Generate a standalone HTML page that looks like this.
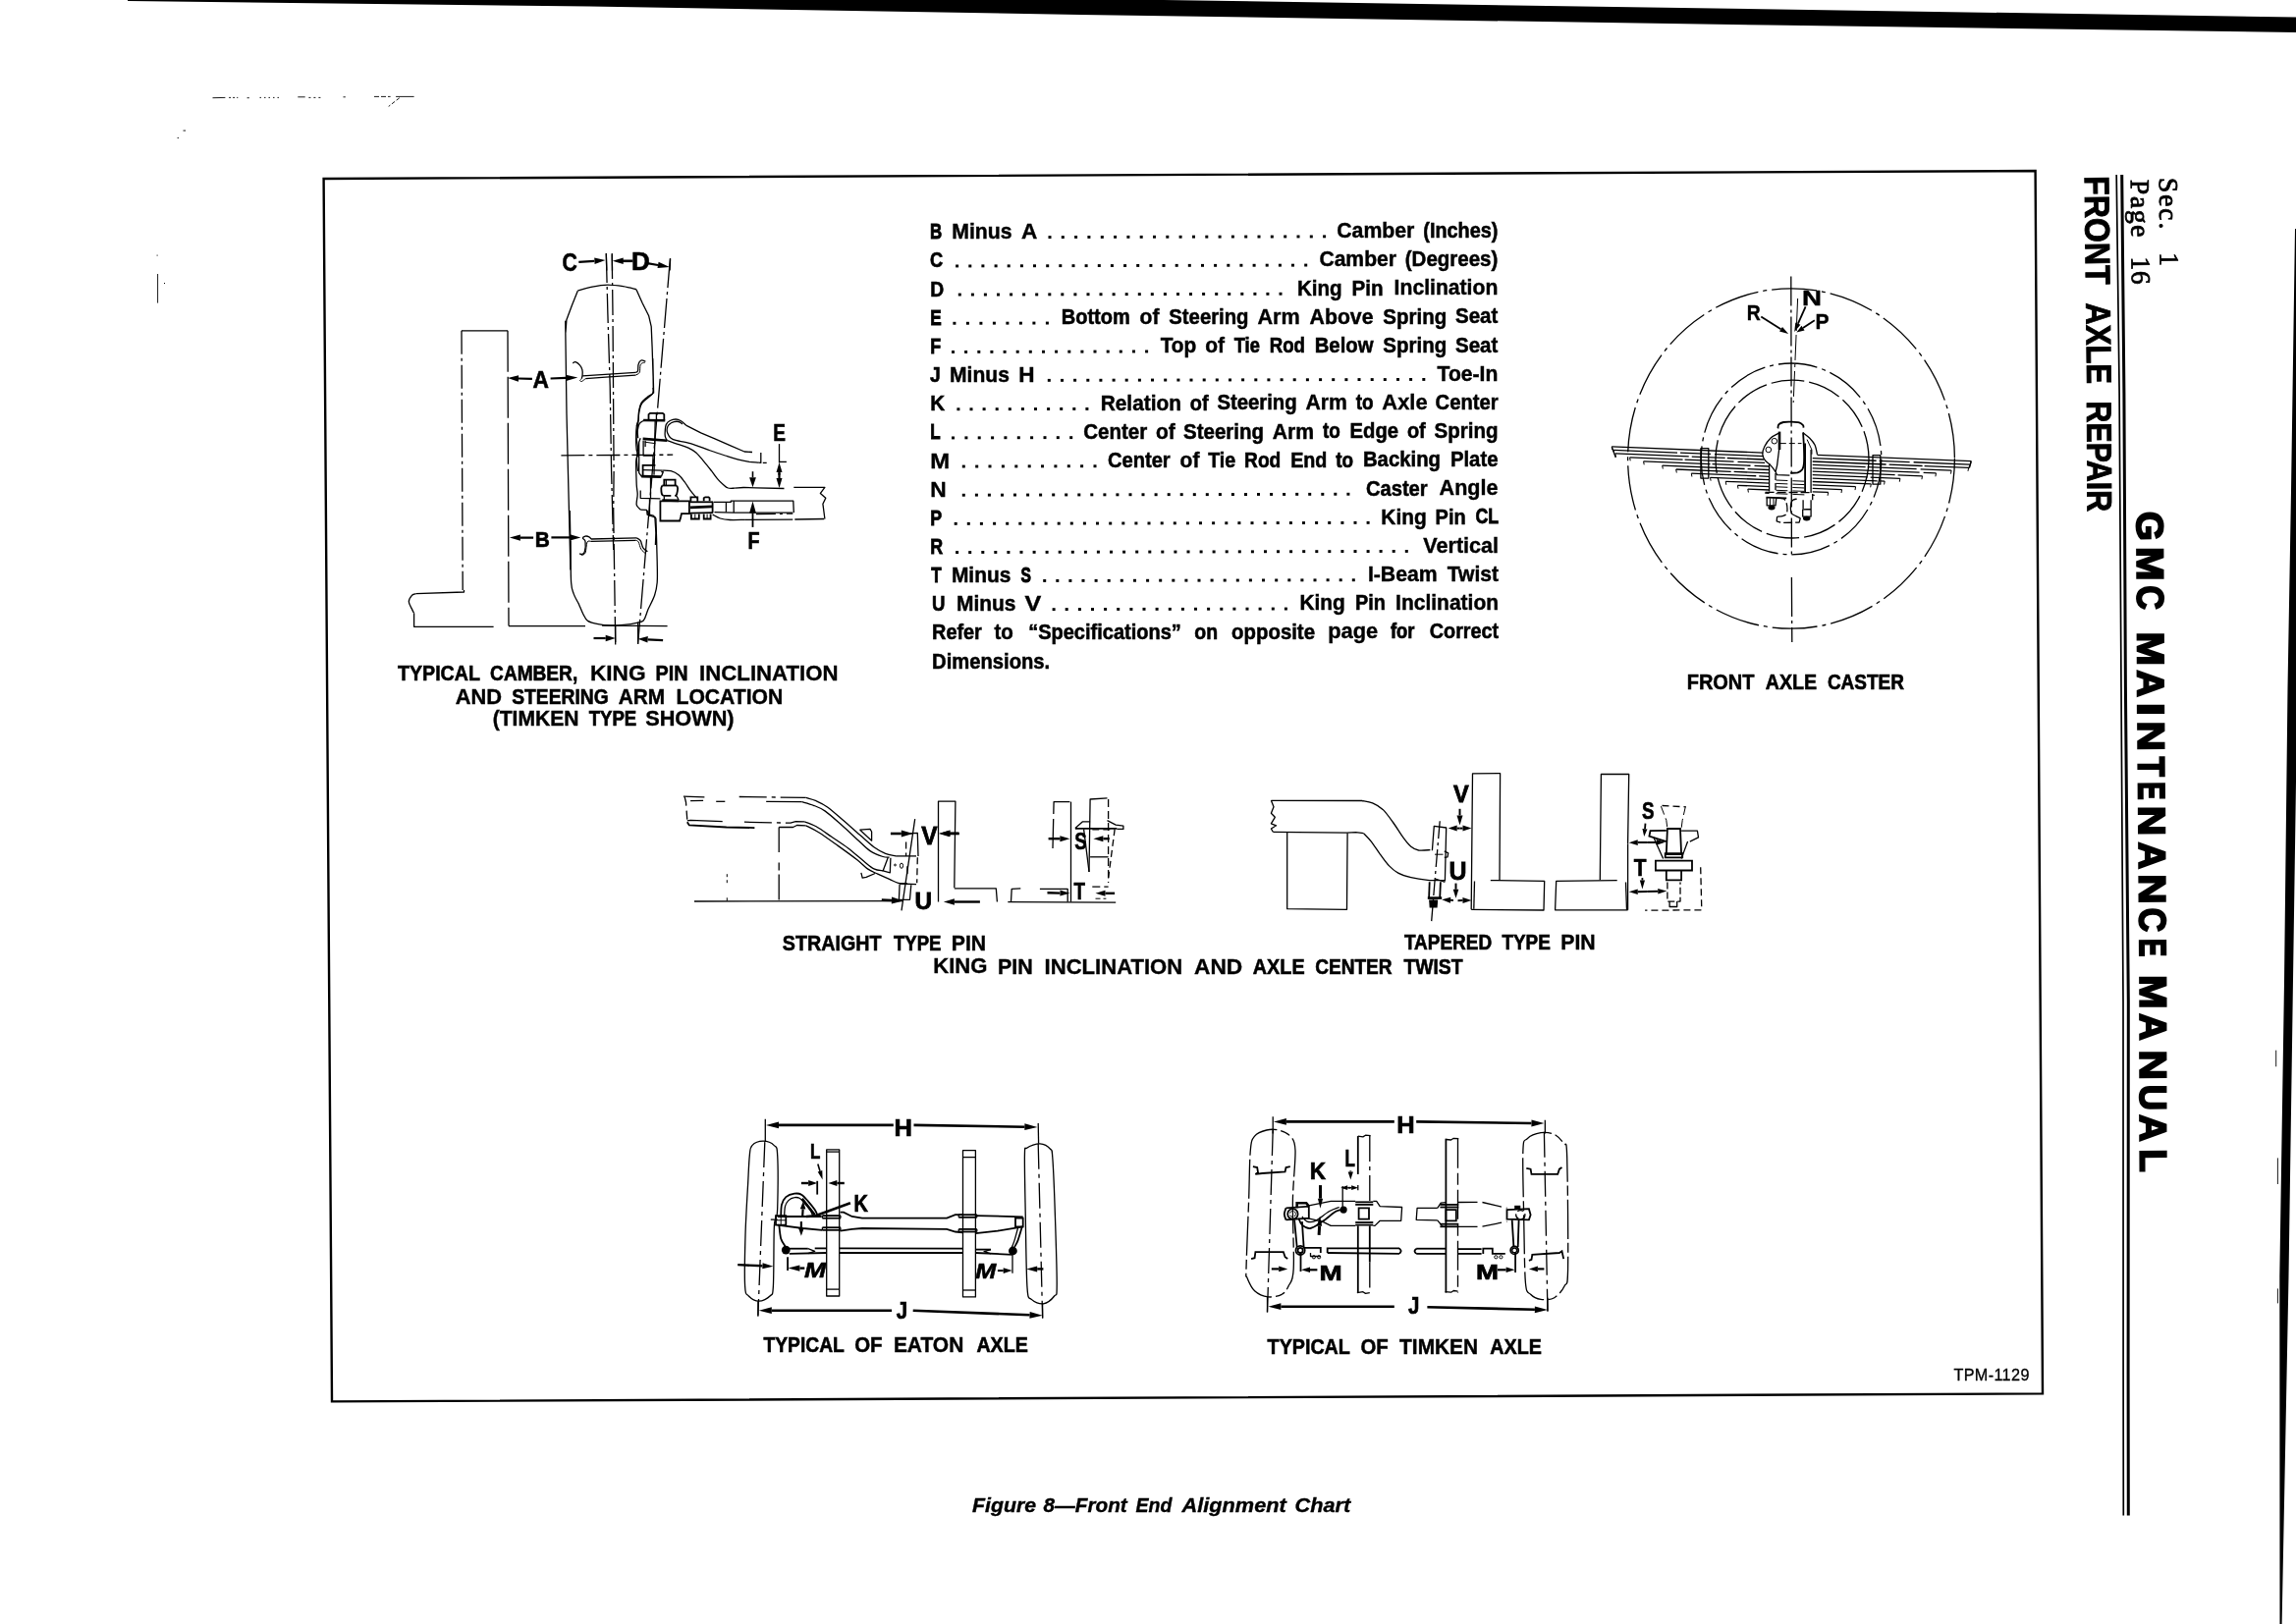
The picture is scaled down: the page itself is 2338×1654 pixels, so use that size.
<!DOCTYPE html>
<html><head><meta charset="utf-8"><title>Figure 8 - Front End Alignment Chart</title>
<style>
html,body{margin:0;padding:0;background:#fff;width:2338px;height:1654px;overflow:hidden}
svg{display:block}
text{font-family:"Liberation Sans",sans-serif;fill:#000}
.b{font-weight:bold}
.s{font-family:"Liberation Serif",serif}
.l{fill:none;stroke:#000;stroke-width:1.3;stroke-linecap:butt;stroke-linejoin:round}
.t{fill:none;stroke:#000;stroke-width:1}
.m{fill:none;stroke:#000;stroke-width:1.8}
.h{fill:none;stroke:#000;stroke-width:2.6}
.k{fill:#000;stroke:none}
</style></head><body>
<svg style="filter:grayscale(1)" width="2338" height="1654" viewBox="0 0 2338 1654">
<rect x="0" y="0" width="2338" height="1654" fill="#fff"/>

<polygon class="k" points="130,0 1185,0 2338,17.5 2338,33 1800,25.5 1100,15 600,6.5 130,1"/>
<polygon class="k" points="2337,233 2338,233 2338,796 2330.5,1300 2323.6,1654 2321.5,1654 2321.3,1300 2326,1000 2329.5,700 2333,500"/>
<polygon points="329.6,182 2072.6,174 2080,1419.4 338,1427.4" fill="none" stroke="#000" stroke-width="2.4"/>
<polyline points="2155.2,178 2158.1,400 2160,700 2162,1020 2162.1,1400 2162.3,1543.5" fill="none" stroke="#000" stroke-width="1.7"/>
<polyline points="2160.7,178 2162.9,400 2164.4,700 2167.3,1020 2167.1,1400 2167.3,1543.5" fill="none" stroke="#000" stroke-width="3"/>
<text class="b" x="946.9" y="243.2" font-size="22" textLength="12.2" lengthAdjust="spacingAndGlyphs" stroke="#000" stroke-width="0.86">B</text>
<text class="b" x="969.3" y="243.1" font-size="22" textLength="61.3" lengthAdjust="spacingAndGlyphs" stroke="#000" stroke-width="0.43">Minus</text>
<text class="b" x="1040.0" y="243.0" font-size="22" textLength="16.3" lengthAdjust="spacingAndGlyphs" stroke="#000" stroke-width="0.35">A</text>
<text class="b" x="1361.2" y="242.2" font-size="22" textLength="79.2" lengthAdjust="spacingAndGlyphs" stroke="#000" stroke-width="0.42">Camber</text>
<text class="b" x="1449.3" y="242.0" font-size="22" textLength="76.0" lengthAdjust="spacingAndGlyphs" stroke="#000" stroke-width="0.57">(Inches)</text>
<rect x="1067.5" y="240.1" width="3" height="2.9" class="k"/>
<rect x="1080.8" y="240.1" width="3" height="2.9" class="k"/>
<rect x="1094.1" y="240.0" width="3" height="2.9" class="k"/>
<rect x="1107.4" y="240.0" width="3" height="2.9" class="k"/>
<rect x="1120.8" y="240.0" width="3" height="2.9" class="k"/>
<rect x="1134.1" y="239.9" width="3" height="2.9" class="k"/>
<rect x="1147.4" y="239.9" width="3" height="2.9" class="k"/>
<rect x="1160.7" y="239.9" width="3" height="2.9" class="k"/>
<rect x="1174.0" y="239.8" width="3" height="2.9" class="k"/>
<rect x="1187.3" y="239.8" width="3" height="2.9" class="k"/>
<rect x="1200.6" y="239.8" width="3" height="2.9" class="k"/>
<rect x="1214.0" y="239.7" width="3" height="2.9" class="k"/>
<rect x="1227.3" y="239.7" width="3" height="2.9" class="k"/>
<rect x="1240.6" y="239.7" width="3" height="2.9" class="k"/>
<rect x="1253.9" y="239.6" width="3" height="2.9" class="k"/>
<rect x="1267.2" y="239.6" width="3" height="2.9" class="k"/>
<rect x="1280.5" y="239.6" width="3" height="2.9" class="k"/>
<rect x="1293.8" y="239.6" width="3" height="2.9" class="k"/>
<rect x="1307.2" y="239.5" width="3" height="2.9" class="k"/>
<rect x="1320.5" y="239.5" width="3" height="2.9" class="k"/>
<rect x="1333.8" y="239.5" width="3" height="2.9" class="k"/>
<rect x="1347.1" y="239.4" width="3" height="2.9" class="k"/>
<text class="b" x="947.1" y="272.4" font-size="22" textLength="13.1" lengthAdjust="spacingAndGlyphs" stroke="#000" stroke-width="0.74">C</text>
<text class="b" x="1343.4" y="271.4" font-size="22" textLength="78.6" lengthAdjust="spacingAndGlyphs" stroke="#000" stroke-width="0.44">Camber</text>
<text class="b" x="1430.8" y="271.2" font-size="22" textLength="94.5" lengthAdjust="spacingAndGlyphs" stroke="#000" stroke-width="0.50">(Degrees)</text>
<rect x="973.1" y="269.5" width="3" height="2.9" class="k"/>
<rect x="986.3" y="269.5" width="3" height="2.9" class="k"/>
<rect x="999.4" y="269.4" width="3" height="2.9" class="k"/>
<rect x="1012.6" y="269.4" width="3" height="2.9" class="k"/>
<rect x="1025.7" y="269.4" width="3" height="2.9" class="k"/>
<rect x="1038.9" y="269.3" width="3" height="2.9" class="k"/>
<rect x="1052.0" y="269.3" width="3" height="2.9" class="k"/>
<rect x="1065.2" y="269.3" width="3" height="2.9" class="k"/>
<rect x="1078.3" y="269.2" width="3" height="2.9" class="k"/>
<rect x="1091.5" y="269.2" width="3" height="2.9" class="k"/>
<rect x="1104.6" y="269.2" width="3" height="2.9" class="k"/>
<rect x="1117.8" y="269.1" width="3" height="2.9" class="k"/>
<rect x="1130.9" y="269.1" width="3" height="2.9" class="k"/>
<rect x="1144.1" y="269.1" width="3" height="2.9" class="k"/>
<rect x="1157.2" y="269.0" width="3" height="2.9" class="k"/>
<rect x="1170.4" y="269.0" width="3" height="2.9" class="k"/>
<rect x="1183.5" y="269.0" width="3" height="2.9" class="k"/>
<rect x="1196.7" y="268.9" width="3" height="2.9" class="k"/>
<rect x="1209.8" y="268.9" width="3" height="2.9" class="k"/>
<rect x="1223.0" y="268.9" width="3" height="2.9" class="k"/>
<rect x="1236.1" y="268.9" width="3" height="2.9" class="k"/>
<rect x="1249.3" y="268.8" width="3" height="2.9" class="k"/>
<rect x="1262.4" y="268.8" width="3" height="2.9" class="k"/>
<rect x="1275.6" y="268.8" width="3" height="2.9" class="k"/>
<rect x="1288.7" y="268.7" width="3" height="2.9" class="k"/>
<rect x="1301.9" y="268.7" width="3" height="2.9" class="k"/>
<rect x="1315.0" y="268.7" width="3" height="2.9" class="k"/>
<rect x="1328.2" y="268.6" width="3" height="2.9" class="k"/>
<text class="b" x="947.3" y="301.5" font-size="22" textLength="13.9" lengthAdjust="spacingAndGlyphs" stroke="#000" stroke-width="0.63">D</text>
<text class="b" x="1320.9" y="300.6" font-size="22" textLength="45.8" lengthAdjust="spacingAndGlyphs" stroke="#000" stroke-width="0.49">King</text>
<text class="b" x="1376.6" y="300.5" font-size="22" textLength="32.1" lengthAdjust="spacingAndGlyphs" stroke="#000" stroke-width="0.49">Pin</text>
<text class="b" x="1419.6" y="300.4" font-size="22" textLength="105.7" lengthAdjust="spacingAndGlyphs" stroke="#000" stroke-width="0.44">Inclination</text>
<rect x="975.8" y="298.6" width="3" height="2.9" class="k"/>
<rect x="988.9" y="298.6" width="3" height="2.9" class="k"/>
<rect x="1001.9" y="298.6" width="3" height="2.9" class="k"/>
<rect x="1015.0" y="298.6" width="3" height="2.9" class="k"/>
<rect x="1028.1" y="298.5" width="3" height="2.9" class="k"/>
<rect x="1041.1" y="298.5" width="3" height="2.9" class="k"/>
<rect x="1054.2" y="298.5" width="3" height="2.9" class="k"/>
<rect x="1067.3" y="298.4" width="3" height="2.9" class="k"/>
<rect x="1080.3" y="298.4" width="3" height="2.9" class="k"/>
<rect x="1093.4" y="298.4" width="3" height="2.9" class="k"/>
<rect x="1106.5" y="298.3" width="3" height="2.9" class="k"/>
<rect x="1119.5" y="298.3" width="3" height="2.9" class="k"/>
<rect x="1132.6" y="298.3" width="3" height="2.9" class="k"/>
<rect x="1145.7" y="298.2" width="3" height="2.9" class="k"/>
<rect x="1158.8" y="298.2" width="3" height="2.9" class="k"/>
<rect x="1171.8" y="298.2" width="3" height="2.9" class="k"/>
<rect x="1184.9" y="298.1" width="3" height="2.9" class="k"/>
<rect x="1198.0" y="298.1" width="3" height="2.9" class="k"/>
<rect x="1211.0" y="298.1" width="3" height="2.9" class="k"/>
<rect x="1224.1" y="298.0" width="3" height="2.9" class="k"/>
<rect x="1237.2" y="298.0" width="3" height="2.9" class="k"/>
<rect x="1250.2" y="298.0" width="3" height="2.9" class="k"/>
<rect x="1263.3" y="297.9" width="3" height="2.9" class="k"/>
<rect x="1276.4" y="297.9" width="3" height="2.9" class="k"/>
<rect x="1289.4" y="297.9" width="3" height="2.9" class="k"/>
<rect x="1302.5" y="297.8" width="3" height="2.9" class="k"/>
<text class="b" x="947.3" y="330.7" font-size="22" textLength="11.5" lengthAdjust="spacingAndGlyphs" stroke="#000" stroke-width="0.83">E</text>
<text class="b" x="1080.8" y="330.4" font-size="22" textLength="70.0" lengthAdjust="spacingAndGlyphs" stroke="#000" stroke-width="0.55">Bottom</text>
<text class="b" x="1160.6" y="330.2" font-size="22" textLength="19.9" lengthAdjust="spacingAndGlyphs" stroke="#000" stroke-width="0.44">of</text>
<text class="b" x="1190.3" y="330.1" font-size="22" textLength="81.2" lengthAdjust="spacingAndGlyphs" stroke="#000" stroke-width="0.52">Steering</text>
<text class="b" x="1280.4" y="329.9" font-size="22" textLength="43.3" lengthAdjust="spacingAndGlyphs" stroke="#000" stroke-width="0.39">Arm</text>
<text class="b" x="1333.6" y="329.7" font-size="22" textLength="64.9" lengthAdjust="spacingAndGlyphs" stroke="#000" stroke-width="0.43">Above</text>
<text class="b" x="1408.3" y="329.6" font-size="22" textLength="64.9" lengthAdjust="spacingAndGlyphs" stroke="#000" stroke-width="0.50">Spring</text>
<text class="b" x="1482.0" y="329.4" font-size="22" textLength="43.3" lengthAdjust="spacingAndGlyphs" stroke="#000" stroke-width="0.50">Seat</text>
<rect x="970.4" y="327.8" width="3" height="2.9" class="k"/>
<rect x="983.9" y="327.8" width="3" height="2.9" class="k"/>
<rect x="997.4" y="327.8" width="3" height="2.9" class="k"/>
<rect x="1010.9" y="327.7" width="3" height="2.9" class="k"/>
<rect x="1024.4" y="327.7" width="3" height="2.9" class="k"/>
<rect x="1037.9" y="327.7" width="3" height="2.9" class="k"/>
<rect x="1051.4" y="327.6" width="3" height="2.9" class="k"/>
<rect x="1064.9" y="327.6" width="3" height="2.9" class="k"/>
<text class="b" x="947.3" y="359.8" font-size="22" textLength="10.9" lengthAdjust="spacingAndGlyphs" stroke="#000" stroke-width="0.77">F</text>
<text class="b" x="1181.7" y="359.3" font-size="22" textLength="36.6" lengthAdjust="spacingAndGlyphs" stroke="#000" stroke-width="0.47">Top</text>
<text class="b" x="1227.2" y="359.2" font-size="22" textLength="19.8" lengthAdjust="spacingAndGlyphs" stroke="#000" stroke-width="0.45">of</text>
<text class="b" x="1256.8" y="359.1" font-size="22" textLength="26.0" lengthAdjust="spacingAndGlyphs" stroke="#000" stroke-width="0.73">Tie</text>
<text class="b" x="1292.7" y="359.0" font-size="22" textLength="36.2" lengthAdjust="spacingAndGlyphs" stroke="#000" stroke-width="0.69">Rod</text>
<text class="b" x="1338.7" y="358.9" font-size="22" textLength="59.8" lengthAdjust="spacingAndGlyphs" stroke="#000" stroke-width="0.52">Below</text>
<text class="b" x="1408.3" y="358.7" font-size="22" textLength="64.9" lengthAdjust="spacingAndGlyphs" stroke="#000" stroke-width="0.50">Spring</text>
<text class="b" x="1482.0" y="358.5" font-size="22" textLength="43.3" lengthAdjust="spacingAndGlyphs" stroke="#000" stroke-width="0.50">Seat</text>
<rect x="969.0" y="357.0" width="3" height="2.9" class="k"/>
<rect x="982.1" y="357.0" width="3" height="2.9" class="k"/>
<rect x="995.3" y="356.9" width="3" height="2.9" class="k"/>
<rect x="1008.4" y="356.9" width="3" height="2.9" class="k"/>
<rect x="1021.6" y="356.9" width="3" height="2.9" class="k"/>
<rect x="1034.7" y="356.8" width="3" height="2.9" class="k"/>
<rect x="1047.8" y="356.8" width="3" height="2.9" class="k"/>
<rect x="1061.0" y="356.8" width="3" height="2.9" class="k"/>
<rect x="1074.1" y="356.7" width="3" height="2.9" class="k"/>
<rect x="1087.3" y="356.7" width="3" height="2.9" class="k"/>
<rect x="1100.4" y="356.7" width="3" height="2.9" class="k"/>
<rect x="1113.5" y="356.6" width="3" height="2.9" class="k"/>
<rect x="1126.7" y="356.6" width="3" height="2.9" class="k"/>
<rect x="1139.8" y="356.6" width="3" height="2.9" class="k"/>
<rect x="1153.0" y="356.5" width="3" height="2.9" class="k"/>
<rect x="1166.1" y="356.5" width="3" height="2.9" class="k"/>
<text class="b" x="946.9" y="389.0" font-size="22" textLength="10.8" lengthAdjust="spacingAndGlyphs" stroke="#000" stroke-width="0.61">J</text>
<text class="b" x="967.1" y="389.0" font-size="22" textLength="60.8" lengthAdjust="spacingAndGlyphs" stroke="#000" stroke-width="0.45">Minus</text>
<text class="b" x="1037.3" y="388.8" font-size="22" textLength="16.3" lengthAdjust="spacingAndGlyphs" stroke="#000" stroke-width="0.35">H</text>
<text class="b" x="1463.6" y="387.7" font-size="22" textLength="61.7" lengthAdjust="spacingAndGlyphs" stroke="#000" stroke-width="0.44">Toe-In</text>
<rect x="1066.8" y="385.9" width="3" height="2.9" class="k"/>
<rect x="1080.0" y="385.9" width="3" height="2.9" class="k"/>
<rect x="1093.1" y="385.8" width="3" height="2.9" class="k"/>
<rect x="1106.3" y="385.8" width="3" height="2.9" class="k"/>
<rect x="1119.4" y="385.8" width="3" height="2.9" class="k"/>
<rect x="1132.6" y="385.7" width="3" height="2.9" class="k"/>
<rect x="1145.7" y="385.7" width="3" height="2.9" class="k"/>
<rect x="1158.9" y="385.7" width="3" height="2.9" class="k"/>
<rect x="1172.0" y="385.6" width="3" height="2.9" class="k"/>
<rect x="1185.2" y="385.6" width="3" height="2.9" class="k"/>
<rect x="1198.4" y="385.6" width="3" height="2.9" class="k"/>
<rect x="1211.5" y="385.6" width="3" height="2.9" class="k"/>
<rect x="1224.7" y="385.5" width="3" height="2.9" class="k"/>
<rect x="1237.8" y="385.5" width="3" height="2.9" class="k"/>
<rect x="1251.0" y="385.5" width="3" height="2.9" class="k"/>
<rect x="1264.1" y="385.4" width="3" height="2.9" class="k"/>
<rect x="1277.3" y="385.4" width="3" height="2.9" class="k"/>
<rect x="1290.4" y="385.4" width="3" height="2.9" class="k"/>
<rect x="1303.6" y="385.3" width="3" height="2.9" class="k"/>
<rect x="1316.7" y="385.3" width="3" height="2.9" class="k"/>
<rect x="1329.9" y="385.3" width="3" height="2.9" class="k"/>
<rect x="1343.1" y="385.2" width="3" height="2.9" class="k"/>
<rect x="1356.2" y="385.2" width="3" height="2.9" class="k"/>
<rect x="1369.4" y="385.2" width="3" height="2.9" class="k"/>
<rect x="1382.5" y="385.1" width="3" height="2.9" class="k"/>
<rect x="1395.7" y="385.1" width="3" height="2.9" class="k"/>
<rect x="1408.8" y="385.1" width="3" height="2.9" class="k"/>
<rect x="1422.0" y="385.0" width="3" height="2.9" class="k"/>
<rect x="1435.1" y="385.0" width="3" height="2.9" class="k"/>
<rect x="1448.3" y="385.0" width="3" height="2.9" class="k"/>
<text class="b" x="947.3" y="418.2" font-size="22" textLength="14.9" lengthAdjust="spacingAndGlyphs" stroke="#000" stroke-width="0.49">K</text>
<text class="b" x="1120.7" y="417.7" font-size="22" textLength="82.3" lengthAdjust="spacingAndGlyphs" stroke="#000" stroke-width="0.46">Relation</text>
<text class="b" x="1211.8" y="417.5" font-size="22" textLength="18.8" lengthAdjust="spacingAndGlyphs" stroke="#000" stroke-width="0.56">of</text>
<text class="b" x="1239.4" y="417.4" font-size="22" textLength="81.3" lengthAdjust="spacingAndGlyphs" stroke="#000" stroke-width="0.52">Steering</text>
<text class="b" x="1329.5" y="417.2" font-size="22" textLength="42.4" lengthAdjust="spacingAndGlyphs" stroke="#000" stroke-width="0.43">Arm</text>
<text class="b" x="1380.7" y="417.1" font-size="22" textLength="17.8" lengthAdjust="spacingAndGlyphs" stroke="#000" stroke-width="0.66">to</text>
<text class="b" x="1407.3" y="417.0" font-size="22" textLength="46.4" lengthAdjust="spacingAndGlyphs" stroke="#000" stroke-width="0.35">Axle</text>
<text class="b" x="1461.6" y="416.9" font-size="22" textLength="63.9" lengthAdjust="spacingAndGlyphs" stroke="#000" stroke-width="0.53">Center</text>
<rect x="974.4" y="415.3" width="3" height="2.9" class="k"/>
<rect x="987.5" y="415.3" width="3" height="2.9" class="k"/>
<rect x="1000.6" y="415.2" width="3" height="2.9" class="k"/>
<rect x="1013.7" y="415.2" width="3" height="2.9" class="k"/>
<rect x="1026.8" y="415.2" width="3" height="2.9" class="k"/>
<rect x="1039.9" y="415.1" width="3" height="2.9" class="k"/>
<rect x="1053.0" y="415.1" width="3" height="2.9" class="k"/>
<rect x="1066.1" y="415.1" width="3" height="2.9" class="k"/>
<rect x="1079.2" y="415.0" width="3" height="2.9" class="k"/>
<rect x="1092.3" y="415.0" width="3" height="2.9" class="k"/>
<rect x="1105.4" y="415.0" width="3" height="2.9" class="k"/>
<text class="b" x="947.3" y="447.3" font-size="22" textLength="10.4" lengthAdjust="spacingAndGlyphs" stroke="#000" stroke-width="0.85">L</text>
<text class="b" x="1103.3" y="446.9" font-size="22" textLength="64.9" lengthAdjust="spacingAndGlyphs" stroke="#000" stroke-width="0.50">Center</text>
<text class="b" x="1177.0" y="446.8" font-size="22" textLength="19.8" lengthAdjust="spacingAndGlyphs" stroke="#000" stroke-width="0.45">of</text>
<text class="b" x="1205.1" y="446.7" font-size="22" textLength="81.8" lengthAdjust="spacingAndGlyphs" stroke="#000" stroke-width="0.51">Steering</text>
<text class="b" x="1295.7" y="446.5" font-size="22" textLength="42.4" lengthAdjust="spacingAndGlyphs" stroke="#000" stroke-width="0.43">Arm</text>
<text class="b" x="1346.9" y="446.3" font-size="22" textLength="17.8" lengthAdjust="spacingAndGlyphs" stroke="#000" stroke-width="0.66">to</text>
<text class="b" x="1374.6" y="446.3" font-size="22" textLength="49.5" lengthAdjust="spacingAndGlyphs" stroke="#000" stroke-width="0.53">Edge</text>
<text class="b" x="1432.9" y="446.1" font-size="22" textLength="18.8" lengthAdjust="spacingAndGlyphs" stroke="#000" stroke-width="0.56">of</text>
<text class="b" x="1460.5" y="446.1" font-size="22" textLength="65.0" lengthAdjust="spacingAndGlyphs" stroke="#000" stroke-width="0.50">Spring</text>
<rect x="969.0" y="444.5" width="3" height="2.9" class="k"/>
<rect x="982.4" y="444.4" width="3" height="2.9" class="k"/>
<rect x="995.7" y="444.4" width="3" height="2.9" class="k"/>
<rect x="1009.1" y="444.4" width="3" height="2.9" class="k"/>
<rect x="1022.4" y="444.3" width="3" height="2.9" class="k"/>
<rect x="1035.8" y="444.3" width="3" height="2.9" class="k"/>
<rect x="1049.1" y="444.3" width="3" height="2.9" class="k"/>
<rect x="1062.5" y="444.2" width="3" height="2.9" class="k"/>
<rect x="1075.8" y="444.2" width="3" height="2.9" class="k"/>
<rect x="1089.2" y="444.2" width="3" height="2.9" class="k"/>
<text class="b" x="947.3" y="476.5" font-size="22" textLength="19.9" lengthAdjust="spacingAndGlyphs" stroke="#000" stroke-width="0.35">M</text>
<text class="b" x="1127.9" y="476.0" font-size="22" textLength="63.8" lengthAdjust="spacingAndGlyphs" stroke="#000" stroke-width="0.54">Center</text>
<text class="b" x="1201.6" y="475.9" font-size="22" textLength="19.8" lengthAdjust="spacingAndGlyphs" stroke="#000" stroke-width="0.45">of</text>
<text class="b" x="1230.2" y="475.8" font-size="22" textLength="28.0" lengthAdjust="spacingAndGlyphs" stroke="#000" stroke-width="0.59">Tie</text>
<text class="b" x="1267.1" y="475.7" font-size="22" textLength="37.2" lengthAdjust="spacingAndGlyphs" stroke="#000" stroke-width="0.64">Rod</text>
<text class="b" x="1314.2" y="475.6" font-size="22" textLength="37.2" lengthAdjust="spacingAndGlyphs" stroke="#000" stroke-width="0.58">End</text>
<text class="b" x="1360.2" y="475.5" font-size="22" textLength="17.8" lengthAdjust="spacingAndGlyphs" stroke="#000" stroke-width="0.66">to</text>
<text class="b" x="1387.9" y="475.4" font-size="22" textLength="79.1" lengthAdjust="spacingAndGlyphs" stroke="#000" stroke-width="0.52">Backing</text>
<text class="b" x="1476.9" y="475.2" font-size="22" textLength="48.6" lengthAdjust="spacingAndGlyphs" stroke="#000" stroke-width="0.52">Plate</text>
<rect x="979.8" y="473.6" width="3" height="2.9" class="k"/>
<rect x="993.2" y="473.6" width="3" height="2.9" class="k"/>
<rect x="1006.5" y="473.5" width="3" height="2.9" class="k"/>
<rect x="1019.9" y="473.5" width="3" height="2.9" class="k"/>
<rect x="1033.3" y="473.5" width="3" height="2.9" class="k"/>
<rect x="1046.7" y="473.4" width="3" height="2.9" class="k"/>
<rect x="1060.0" y="473.4" width="3" height="2.9" class="k"/>
<rect x="1073.4" y="473.4" width="3" height="2.9" class="k"/>
<rect x="1086.8" y="473.3" width="3" height="2.9" class="k"/>
<rect x="1100.1" y="473.3" width="3" height="2.9" class="k"/>
<rect x="1113.5" y="473.3" width="3" height="2.9" class="k"/>
<text class="b" x="947.3" y="505.6" font-size="22" textLength="16.4" lengthAdjust="spacingAndGlyphs" stroke="#000" stroke-width="0.35">N</text>
<text class="b" x="1390.9" y="504.6" font-size="22" textLength="62.8" lengthAdjust="spacingAndGlyphs" stroke="#000" stroke-width="0.53">Caster</text>
<text class="b" x="1465.6" y="504.4" font-size="22" textLength="59.9" lengthAdjust="spacingAndGlyphs" stroke="#000" stroke-width="0.39">Angle</text>
<rect x="979.8" y="502.8" width="3" height="2.9" class="k"/>
<rect x="992.9" y="502.7" width="3" height="2.9" class="k"/>
<rect x="1005.9" y="502.7" width="3" height="2.9" class="k"/>
<rect x="1019.0" y="502.7" width="3" height="2.9" class="k"/>
<rect x="1032.0" y="502.6" width="3" height="2.9" class="k"/>
<rect x="1045.1" y="502.6" width="3" height="2.9" class="k"/>
<rect x="1058.1" y="502.6" width="3" height="2.9" class="k"/>
<rect x="1071.2" y="502.5" width="3" height="2.9" class="k"/>
<rect x="1084.2" y="502.5" width="3" height="2.9" class="k"/>
<rect x="1097.3" y="502.5" width="3" height="2.9" class="k"/>
<rect x="1110.3" y="502.4" width="3" height="2.9" class="k"/>
<rect x="1123.4" y="502.4" width="3" height="2.9" class="k"/>
<rect x="1136.4" y="502.4" width="3" height="2.9" class="k"/>
<rect x="1149.5" y="502.3" width="3" height="2.9" class="k"/>
<rect x="1162.5" y="502.3" width="3" height="2.9" class="k"/>
<rect x="1175.6" y="502.3" width="3" height="2.9" class="k"/>
<rect x="1188.7" y="502.2" width="3" height="2.9" class="k"/>
<rect x="1201.7" y="502.2" width="3" height="2.9" class="k"/>
<rect x="1214.8" y="502.2" width="3" height="2.9" class="k"/>
<rect x="1227.8" y="502.2" width="3" height="2.9" class="k"/>
<rect x="1240.9" y="502.1" width="3" height="2.9" class="k"/>
<rect x="1253.9" y="502.1" width="3" height="2.9" class="k"/>
<rect x="1267.0" y="502.1" width="3" height="2.9" class="k"/>
<rect x="1280.0" y="502.0" width="3" height="2.9" class="k"/>
<rect x="1293.1" y="502.0" width="3" height="2.9" class="k"/>
<rect x="1306.1" y="502.0" width="3" height="2.9" class="k"/>
<rect x="1319.2" y="501.9" width="3" height="2.9" class="k"/>
<rect x="1332.2" y="501.9" width="3" height="2.9" class="k"/>
<rect x="1345.3" y="501.9" width="3" height="2.9" class="k"/>
<rect x="1358.3" y="501.8" width="3" height="2.9" class="k"/>
<rect x="1371.4" y="501.8" width="3" height="2.9" class="k"/>
<text class="b" x="947.3" y="534.8" font-size="22" textLength="11.9" lengthAdjust="spacingAndGlyphs" stroke="#000" stroke-width="0.77">P</text>
<text class="b" x="1406.3" y="533.7" font-size="22" textLength="46.4" lengthAdjust="spacingAndGlyphs" stroke="#000" stroke-width="0.46">King</text>
<text class="b" x="1461.6" y="533.5" font-size="22" textLength="31.1" lengthAdjust="spacingAndGlyphs" stroke="#000" stroke-width="0.55">Pin</text>
<text class="b" x="1502.5" y="533.4" font-size="22" textLength="23.6" lengthAdjust="spacingAndGlyphs" stroke="#000" stroke-width="0.78">CL</text>
<rect x="971.7" y="531.9" width="3" height="2.9" class="k"/>
<rect x="984.8" y="531.9" width="3" height="2.9" class="k"/>
<rect x="997.9" y="531.9" width="3" height="2.9" class="k"/>
<rect x="1011.1" y="531.8" width="3" height="2.9" class="k"/>
<rect x="1024.2" y="531.8" width="3" height="2.9" class="k"/>
<rect x="1037.3" y="531.8" width="3" height="2.9" class="k"/>
<rect x="1050.4" y="531.7" width="3" height="2.9" class="k"/>
<rect x="1063.6" y="531.7" width="3" height="2.9" class="k"/>
<rect x="1076.7" y="531.7" width="3" height="2.9" class="k"/>
<rect x="1089.8" y="531.6" width="3" height="2.9" class="k"/>
<rect x="1102.9" y="531.6" width="3" height="2.9" class="k"/>
<rect x="1116.0" y="531.6" width="3" height="2.9" class="k"/>
<rect x="1129.2" y="531.6" width="3" height="2.9" class="k"/>
<rect x="1142.3" y="531.5" width="3" height="2.9" class="k"/>
<rect x="1155.4" y="531.5" width="3" height="2.9" class="k"/>
<rect x="1168.5" y="531.5" width="3" height="2.9" class="k"/>
<rect x="1181.7" y="531.4" width="3" height="2.9" class="k"/>
<rect x="1194.8" y="531.4" width="3" height="2.9" class="k"/>
<rect x="1207.9" y="531.4" width="3" height="2.9" class="k"/>
<rect x="1221.0" y="531.3" width="3" height="2.9" class="k"/>
<rect x="1234.1" y="531.3" width="3" height="2.9" class="k"/>
<rect x="1247.3" y="531.3" width="3" height="2.9" class="k"/>
<rect x="1260.4" y="531.2" width="3" height="2.9" class="k"/>
<rect x="1273.5" y="531.2" width="3" height="2.9" class="k"/>
<rect x="1286.6" y="531.2" width="3" height="2.9" class="k"/>
<rect x="1299.7" y="531.1" width="3" height="2.9" class="k"/>
<rect x="1312.9" y="531.1" width="3" height="2.9" class="k"/>
<rect x="1326.0" y="531.1" width="3" height="2.9" class="k"/>
<rect x="1339.1" y="531.0" width="3" height="2.9" class="k"/>
<rect x="1352.2" y="531.0" width="3" height="2.9" class="k"/>
<rect x="1365.4" y="531.0" width="3" height="2.9" class="k"/>
<rect x="1378.5" y="530.9" width="3" height="2.9" class="k"/>
<rect x="1391.6" y="530.9" width="3" height="2.9" class="k"/>
<text class="b" x="947.3" y="564.0" font-size="22" textLength="12.9" lengthAdjust="spacingAndGlyphs" stroke="#000" stroke-width="0.76">R</text>
<text class="b" x="1449.3" y="562.7" font-size="22" textLength="76.8" lengthAdjust="spacingAndGlyphs" stroke="#000" stroke-width="0.39">Vertical</text>
<rect x="973.1" y="561.1" width="3" height="2.9" class="k"/>
<rect x="986.2" y="561.1" width="3" height="2.9" class="k"/>
<rect x="999.3" y="561.0" width="3" height="2.9" class="k"/>
<rect x="1012.3" y="561.0" width="3" height="2.9" class="k"/>
<rect x="1025.4" y="561.0" width="3" height="2.9" class="k"/>
<rect x="1038.5" y="560.9" width="3" height="2.9" class="k"/>
<rect x="1051.6" y="560.9" width="3" height="2.9" class="k"/>
<rect x="1064.6" y="560.9" width="3" height="2.9" class="k"/>
<rect x="1077.7" y="560.8" width="3" height="2.9" class="k"/>
<rect x="1090.8" y="560.8" width="3" height="2.9" class="k"/>
<rect x="1103.9" y="560.8" width="3" height="2.9" class="k"/>
<rect x="1116.9" y="560.7" width="3" height="2.9" class="k"/>
<rect x="1130.0" y="560.7" width="3" height="2.9" class="k"/>
<rect x="1143.1" y="560.7" width="3" height="2.9" class="k"/>
<rect x="1156.2" y="560.6" width="3" height="2.9" class="k"/>
<rect x="1169.3" y="560.6" width="3" height="2.9" class="k"/>
<rect x="1182.3" y="560.6" width="3" height="2.9" class="k"/>
<rect x="1195.4" y="560.6" width="3" height="2.9" class="k"/>
<rect x="1208.5" y="560.5" width="3" height="2.9" class="k"/>
<rect x="1221.6" y="560.5" width="3" height="2.9" class="k"/>
<rect x="1234.6" y="560.5" width="3" height="2.9" class="k"/>
<rect x="1247.7" y="560.4" width="3" height="2.9" class="k"/>
<rect x="1260.8" y="560.4" width="3" height="2.9" class="k"/>
<rect x="1273.9" y="560.4" width="3" height="2.9" class="k"/>
<rect x="1287.0" y="560.3" width="3" height="2.9" class="k"/>
<rect x="1300.0" y="560.3" width="3" height="2.9" class="k"/>
<rect x="1313.1" y="560.3" width="3" height="2.9" class="k"/>
<rect x="1326.2" y="560.2" width="3" height="2.9" class="k"/>
<rect x="1339.3" y="560.2" width="3" height="2.9" class="k"/>
<rect x="1352.3" y="560.2" width="3" height="2.9" class="k"/>
<rect x="1365.4" y="560.1" width="3" height="2.9" class="k"/>
<rect x="1378.5" y="560.1" width="3" height="2.9" class="k"/>
<rect x="1391.6" y="560.1" width="3" height="2.9" class="k"/>
<rect x="1404.6" y="560.0" width="3" height="2.9" class="k"/>
<rect x="1417.7" y="560.0" width="3" height="2.9" class="k"/>
<rect x="1430.8" y="560.0" width="3" height="2.9" class="k"/>
<text class="b" x="948.3" y="593.1" font-size="22" textLength="10.4" lengthAdjust="spacingAndGlyphs" stroke="#000" stroke-width="0.85">T</text>
<text class="b" x="968.9" y="593.1" font-size="22" textLength="60.5" lengthAdjust="spacingAndGlyphs" stroke="#000" stroke-width="0.46">Minus</text>
<text class="b" x="1039.5" y="592.9" font-size="22" textLength="10.4" lengthAdjust="spacingAndGlyphs" stroke="#000" stroke-width="0.99">S</text>
<text class="b" x="1392.9" y="592.0" font-size="22" textLength="70.7" lengthAdjust="spacingAndGlyphs" stroke="#000" stroke-width="0.43">I-Beam</text>
<text class="b" x="1473.8" y="591.8" font-size="22" textLength="52.3" lengthAdjust="spacingAndGlyphs" stroke="#000" stroke-width="0.44">Twist</text>
<rect x="1062.2" y="590.0" width="3" height="2.9" class="k"/>
<rect x="1075.3" y="590.0" width="3" height="2.9" class="k"/>
<rect x="1088.4" y="590.0" width="3" height="2.9" class="k"/>
<rect x="1101.5" y="589.9" width="3" height="2.9" class="k"/>
<rect x="1114.6" y="589.9" width="3" height="2.9" class="k"/>
<rect x="1127.7" y="589.9" width="3" height="2.9" class="k"/>
<rect x="1140.8" y="589.8" width="3" height="2.9" class="k"/>
<rect x="1154.0" y="589.8" width="3" height="2.9" class="k"/>
<rect x="1167.1" y="589.8" width="3" height="2.9" class="k"/>
<rect x="1180.2" y="589.7" width="3" height="2.9" class="k"/>
<rect x="1193.3" y="589.7" width="3" height="2.9" class="k"/>
<rect x="1206.4" y="589.7" width="3" height="2.9" class="k"/>
<rect x="1219.5" y="589.7" width="3" height="2.9" class="k"/>
<rect x="1232.6" y="589.6" width="3" height="2.9" class="k"/>
<rect x="1245.7" y="589.6" width="3" height="2.9" class="k"/>
<rect x="1258.8" y="589.6" width="3" height="2.9" class="k"/>
<rect x="1271.9" y="589.5" width="3" height="2.9" class="k"/>
<rect x="1285.0" y="589.5" width="3" height="2.9" class="k"/>
<rect x="1298.2" y="589.5" width="3" height="2.9" class="k"/>
<rect x="1311.3" y="589.4" width="3" height="2.9" class="k"/>
<rect x="1324.4" y="589.4" width="3" height="2.9" class="k"/>
<rect x="1337.5" y="589.4" width="3" height="2.9" class="k"/>
<rect x="1350.6" y="589.3" width="3" height="2.9" class="k"/>
<rect x="1363.7" y="589.3" width="3" height="2.9" class="k"/>
<rect x="1376.8" y="589.3" width="3" height="2.9" class="k"/>
<text class="b" x="949.1" y="622.3" font-size="22" textLength="13.4" lengthAdjust="spacingAndGlyphs" stroke="#000" stroke-width="0.69">U</text>
<text class="b" x="974.0" y="622.2" font-size="22" textLength="60.5" lengthAdjust="spacingAndGlyphs" stroke="#000" stroke-width="0.46">Minus</text>
<text class="b" x="1043.4" y="622.0" font-size="22" textLength="16.8" lengthAdjust="spacingAndGlyphs" stroke="#000" stroke-width="0.35">V</text>
<text class="b" x="1323.5" y="621.4" font-size="22" textLength="46.3" lengthAdjust="spacingAndGlyphs" stroke="#000" stroke-width="0.47">King</text>
<text class="b" x="1380.0" y="621.2" font-size="22" textLength="31.0" lengthAdjust="spacingAndGlyphs" stroke="#000" stroke-width="0.56">Pin</text>
<text class="b" x="1421.1" y="621.1" font-size="22" textLength="105.0" lengthAdjust="spacingAndGlyphs" stroke="#000" stroke-width="0.45">Inclination</text>
<rect x="1071.6" y="619.2" width="3" height="2.9" class="k"/>
<rect x="1084.7" y="619.1" width="3" height="2.9" class="k"/>
<rect x="1097.9" y="619.1" width="3" height="2.9" class="k"/>
<rect x="1111.0" y="619.1" width="3" height="2.9" class="k"/>
<rect x="1124.1" y="619.0" width="3" height="2.9" class="k"/>
<rect x="1137.2" y="619.0" width="3" height="2.9" class="k"/>
<rect x="1150.4" y="619.0" width="3" height="2.9" class="k"/>
<rect x="1163.5" y="618.9" width="3" height="2.9" class="k"/>
<rect x="1176.6" y="618.9" width="3" height="2.9" class="k"/>
<rect x="1189.8" y="618.9" width="3" height="2.9" class="k"/>
<rect x="1202.9" y="618.9" width="3" height="2.9" class="k"/>
<rect x="1216.0" y="618.8" width="3" height="2.9" class="k"/>
<rect x="1229.1" y="618.8" width="3" height="2.9" class="k"/>
<rect x="1242.3" y="618.8" width="3" height="2.9" class="k"/>
<rect x="1255.4" y="618.7" width="3" height="2.9" class="k"/>
<rect x="1268.5" y="618.7" width="3" height="2.9" class="k"/>
<rect x="1281.6" y="618.7" width="3" height="2.9" class="k"/>
<rect x="1294.8" y="618.6" width="3" height="2.9" class="k"/>
<rect x="1307.9" y="618.6" width="3" height="2.9" class="k"/>
<text class="b" x="949.1" y="651.4" font-size="22" textLength="50.7" lengthAdjust="spacingAndGlyphs" stroke="#000" stroke-width="0.57">Refer</text>
<text class="b" x="1012.5" y="651.3" font-size="22" textLength="19.4" lengthAdjust="spacingAndGlyphs" stroke="#000" stroke-width="0.49">to</text>
<text class="b" x="1047.2" y="651.2" font-size="22" textLength="155.6" lengthAdjust="spacingAndGlyphs" stroke="#000" stroke-width="0.55">“Specifications”</text>
<text class="b" x="1216.3" y="650.8" font-size="22" textLength="23.8" lengthAdjust="spacingAndGlyphs" stroke="#000" stroke-width="0.60">on</text>
<text class="b" x="1254.1" y="650.7" font-size="22" textLength="84.9" lengthAdjust="spacingAndGlyphs" stroke="#000" stroke-width="0.51">opposite</text>
<text class="b" x="1352.2" y="650.4" font-size="22" textLength="51.0" lengthAdjust="spacingAndGlyphs" stroke="#000" stroke-width="0.36">page</text>
<text class="b" x="1416.0" y="650.3" font-size="22" textLength="24.5" lengthAdjust="spacingAndGlyphs" stroke="#000" stroke-width="0.71">for</text>
<text class="b" x="1455.8" y="650.2" font-size="22" textLength="70.3" lengthAdjust="spacingAndGlyphs" stroke="#000" stroke-width="0.57">Correct</text>
<text class="b" x="949.1" y="680.6" font-size="22" textLength="120.1" lengthAdjust="spacingAndGlyphs" stroke="#000" stroke-width="0.53">Dimensions.</text>
<text class="b" x="405.0" y="693.2" font-size="22" textLength="83.9" lengthAdjust="spacingAndGlyphs" stroke="#000" stroke-width="0.59">TYPICAL</text>
<text class="b" x="499.1" y="693.2" font-size="22" textLength="89.1" lengthAdjust="spacingAndGlyphs" stroke="#000" stroke-width="0.64">CAMBER,</text>
<text class="b" x="601.0" y="693.2" font-size="22" textLength="56.5" lengthAdjust="spacingAndGlyphs" stroke="#000" stroke-width="0.35">KING</text>
<text class="b" x="667.6" y="693.2" font-size="22" textLength="33.0" lengthAdjust="spacingAndGlyphs" stroke="#000" stroke-width="0.57">PIN</text>
<text class="b" x="712.1" y="693.2" font-size="22" textLength="141.4" lengthAdjust="spacingAndGlyphs" stroke="#000" stroke-width="0.35">INCLINATION</text>
<text class="b" x="463.8" y="716.6" font-size="22" textLength="47.3" lengthAdjust="spacingAndGlyphs" stroke="#000" stroke-width="0.37">AND</text>
<text class="b" x="521.3" y="716.6" font-size="22" textLength="98.3" lengthAdjust="spacingAndGlyphs" stroke="#000" stroke-width="0.63">STEERING</text>
<text class="b" x="629.7" y="716.6" font-size="22" textLength="47.4" lengthAdjust="spacingAndGlyphs" stroke="#000" stroke-width="0.47">ARM</text>
<text class="b" x="688.5" y="716.6" font-size="22" textLength="108.8" lengthAdjust="spacingAndGlyphs" stroke="#000" stroke-width="0.44">LOCATION</text>
<text class="b" x="501.7" y="739.4" font-size="22" textLength="87.8" lengthAdjust="spacingAndGlyphs" stroke="#000" stroke-width="0.44">(TIMKEN</text>
<text class="b" x="599.7" y="739.4" font-size="22" textLength="48.6" lengthAdjust="spacingAndGlyphs" stroke="#000" stroke-width="0.69">TYPE</text>
<text class="b" x="657.2" y="739.4" font-size="22" textLength="90.4" lengthAdjust="spacingAndGlyphs" stroke="#000" stroke-width="0.38">SHOWN)</text>
<text class="b" x="1717.7" y="701.9" font-size="22" textLength="68.8" lengthAdjust="spacingAndGlyphs" stroke="#000" stroke-width="0.55">FRONT</text>
<text class="b" x="1797.8" y="701.7" font-size="22" textLength="52.4" lengthAdjust="spacingAndGlyphs" stroke="#000" stroke-width="0.59">AXLE</text>
<text class="b" x="1860.9" y="701.6" font-size="22" textLength="78.0" lengthAdjust="spacingAndGlyphs" stroke="#000" stroke-width="0.65">CASTER</text>
<text class="b" x="796.8" y="968.1" font-size="22" textLength="100.7" lengthAdjust="spacingAndGlyphs" stroke="#000" stroke-width="0.58">STRAIGHT</text>
<text class="b" x="910.0" y="967.9" font-size="22" textLength="48.5" lengthAdjust="spacingAndGlyphs" stroke="#000" stroke-width="0.69">TYPE</text>
<text class="b" x="968.8" y="967.8" font-size="22" textLength="35.4" lengthAdjust="spacingAndGlyphs" stroke="#000" stroke-width="0.43">PIN</text>
<text class="b" x="1429.9" y="967.2" font-size="22" textLength="89.2" lengthAdjust="spacingAndGlyphs" stroke="#000" stroke-width="0.65">TAPERED</text>
<text class="b" x="1529.4" y="967.0" font-size="22" textLength="49.5" lengthAdjust="spacingAndGlyphs" stroke="#000" stroke-width="0.65">TYPE</text>
<text class="b" x="1589.3" y="966.9" font-size="22" textLength="35.4" lengthAdjust="spacingAndGlyphs" stroke="#000" stroke-width="0.43">PIN</text>
<text class="b" x="950.2" y="991.4" font-size="22" textLength="55.2" lengthAdjust="spacingAndGlyphs" stroke="#000" stroke-width="0.35">KING</text>
<text class="b" x="1016.0" y="991.5" font-size="22" textLength="35.8" lengthAdjust="spacingAndGlyphs" stroke="#000" stroke-width="0.40">PIN</text>
<text class="b" x="1063.6" y="991.5" font-size="22" textLength="140.6" lengthAdjust="spacingAndGlyphs" stroke="#000" stroke-width="0.35">INCLINATION</text>
<text class="b" x="1216.0" y="991.7" font-size="22" textLength="49.2" lengthAdjust="spacingAndGlyphs" stroke="#000" stroke-width="0.35">AND</text>
<text class="b" x="1275.8" y="991.8" font-size="22" textLength="52.8" lengthAdjust="spacingAndGlyphs" stroke="#000" stroke-width="0.57">AXLE</text>
<text class="b" x="1339.2" y="991.9" font-size="22" textLength="78.4" lengthAdjust="spacingAndGlyphs" stroke="#000" stroke-width="0.64">CENTER</text>
<text class="b" x="1429.4" y="992.0" font-size="22" textLength="60.2" lengthAdjust="spacingAndGlyphs" stroke="#000" stroke-width="0.61">TWIST</text>
<text class="b" x="777.5" y="1377.0" font-size="22" textLength="82.3" lengthAdjust="spacingAndGlyphs" stroke="#000" stroke-width="0.63">TYPICAL</text>
<text class="b" x="870.2" y="1377.0" font-size="22" textLength="28.4" lengthAdjust="spacingAndGlyphs" stroke="#000" stroke-width="0.50">OF</text>
<text class="b" x="909.9" y="1377.0" font-size="22" textLength="71.4" lengthAdjust="spacingAndGlyphs" stroke="#000" stroke-width="0.45">EATON</text>
<text class="b" x="994.4" y="1377.0" font-size="22" textLength="52.4" lengthAdjust="spacingAndGlyphs" stroke="#000" stroke-width="0.59">AXLE</text>
<text class="b" x="1290.6" y="1378.7" font-size="22" textLength="84.3" lengthAdjust="spacingAndGlyphs" stroke="#000" stroke-width="0.58">TYPICAL</text>
<text class="b" x="1385.4" y="1378.7" font-size="22" textLength="28.3" lengthAdjust="spacingAndGlyphs" stroke="#000" stroke-width="0.51">OF</text>
<text class="b" x="1425.1" y="1378.7" font-size="22" textLength="80.0" lengthAdjust="spacingAndGlyphs" stroke="#000" stroke-width="0.46">TIMKEN</text>
<text class="b" x="1517.3" y="1378.7" font-size="22" textLength="52.5" lengthAdjust="spacingAndGlyphs" stroke="#000" stroke-width="0.58">AXLE</text>
<text class="b" font-size="35.5" transform="translate(2122.8 179.3) rotate(89.34)" x="0" y="0" textLength="110.5" lengthAdjust="spacingAndGlyphs" stroke="#000" stroke-width="0.9" xml:space="preserve">FRONT</text>
<text class="b" font-size="35.5" transform="translate(2124.3 308.6) rotate(89.34)" x="0" y="0" textLength="82.5" lengthAdjust="spacingAndGlyphs" stroke="#000" stroke-width="0.9" xml:space="preserve">AXLE</text>
<text class="b" font-size="35.5" transform="translate(2125.1 408.6) rotate(89.67)" x="0" y="0" textLength="112.5" lengthAdjust="spacingAndGlyphs" stroke="#000" stroke-width="0.9" xml:space="preserve">REPAIR</text>
<text class="b" font-size="38.5" text-anchor="middle" transform="translate(2175.8 536.0) rotate(89.67) scale(1.0 1)" x="0" y="0" stroke="#000" stroke-width="1.8">G</text>
<text class="b" font-size="38.5" text-anchor="middle" transform="translate(2176.0 574.3) rotate(89.67) scale(1.08 1)" x="0" y="0" stroke="#000" stroke-width="1.8">M</text>
<text class="b" font-size="38.5" text-anchor="middle" transform="translate(2176.2 608.7) rotate(89.67) scale(0.88 1)" x="0" y="0" stroke="#000" stroke-width="1.8">C</text>
<text class="b" font-size="38.5" text-anchor="middle" transform="translate(2176.5 660.8) rotate(89.67) scale(1.08 1)" x="0" y="0" stroke="#000" stroke-width="1.8">M</text>
<text class="b" font-size="38.5" text-anchor="middle" transform="translate(2176.7 696.2) rotate(89.67) scale(1.0 1)" x="0" y="0" stroke="#000" stroke-width="1.8">A</text>
<text class="b" font-size="38.5" text-anchor="middle" transform="translate(2176.9 722.5) rotate(89.67) scale(1.25 1)" x="0" y="0" stroke="#000" stroke-width="1.8">I</text>
<text class="b" font-size="38.5" text-anchor="middle" transform="translate(2177.1 749.9) rotate(89.67) scale(1.1 1)" x="0" y="0" stroke="#000" stroke-width="1.8">N</text>
<text class="b" font-size="38.5" text-anchor="middle" transform="translate(2177.4 780.9) rotate(89.67) scale(0.86 1)" x="0" y="0" stroke="#000" stroke-width="1.8">T</text>
<text class="b" font-size="38.5" text-anchor="middle" transform="translate(2177.6 805.6) rotate(89.67) scale(0.72 1)" x="0" y="0" stroke="#000" stroke-width="1.8">E</text>
<text class="b" font-size="38.5" text-anchor="middle" transform="translate(2177.8 836.0) rotate(89.67) scale(1.1 1)" x="0" y="0" stroke="#000" stroke-width="1.8">N</text>
<text class="b" font-size="38.5" text-anchor="middle" transform="translate(2178.1 871.4) rotate(89.67) scale(1.0 1)" x="0" y="0" stroke="#000" stroke-width="1.8">A</text>
<text class="b" font-size="38.5" text-anchor="middle" transform="translate(2178.3 905.5) rotate(89.67) scale(1.1 1)" x="0" y="0" stroke="#000" stroke-width="1.8">N</text>
<text class="b" font-size="38.5" text-anchor="middle" transform="translate(2178.6 937.1) rotate(89.67) scale(0.88 1)" x="0" y="0" stroke="#000" stroke-width="1.8">C</text>
<text class="b" font-size="38.5" text-anchor="middle" transform="translate(2178.8 965.2) rotate(89.67) scale(0.72 1)" x="0" y="0" stroke="#000" stroke-width="1.8">E</text>
<text class="b" font-size="38.5" text-anchor="middle" transform="translate(2179.1 1010.3) rotate(89.67) scale(1.08 1)" x="0" y="0" stroke="#000" stroke-width="1.8">M</text>
<text class="b" font-size="38.5" text-anchor="middle" transform="translate(2179.2 1046.0) rotate(89.67) scale(1.0 1)" x="0" y="0" stroke="#000" stroke-width="1.8">A</text>
<text class="b" font-size="38.5" text-anchor="middle" transform="translate(2179.2 1084.7) rotate(89.67) scale(1.1 1)" x="0" y="0" stroke="#000" stroke-width="1.8">N</text>
<text class="b" font-size="38.5" text-anchor="middle" transform="translate(2179.2 1118.0) rotate(89.67) scale(0.95 1)" x="0" y="0" stroke="#000" stroke-width="1.8">U</text>
<text class="b" font-size="38.5" text-anchor="middle" transform="translate(2179.2 1149.0) rotate(89.67) scale(1.0 1)" x="0" y="0" stroke="#000" stroke-width="1.8">A</text>
<text class="b" font-size="38.5" text-anchor="middle" transform="translate(2179.2 1181.9) rotate(89.67) scale(1.0 1)" x="0" y="0" stroke="#000" stroke-width="1.8">L</text>
<text class="s" font-size="27.5" transform="translate(2198.7 181.0) rotate(89.34)" x="0" y="0" letter-spacing="1.9" stroke="#000" stroke-width="0.8" xml:space="preserve">Sec.</text>
<text class="s" font-size="27.5" transform="translate(2199.6 257.2) rotate(89.34)" x="0" y="0" letter-spacing="0" stroke="#000" stroke-width="0.8" xml:space="preserve">1</text>
<text class="s" font-size="27.5" transform="translate(2169.7 183.0) rotate(89.34)" x="0" y="0" letter-spacing="1.7" stroke="#000" stroke-width="0.8" xml:space="preserve">Page</text>
<text class="s" font-size="27.5" transform="translate(2170.6 261.6) rotate(89.34)" x="0" y="0" letter-spacing="0.6" stroke="#000" stroke-width="0.8" xml:space="preserve">16</text>
<text class="b" x="990.1" y="1539.8" font-size="19.5" textLength="64.9" lengthAdjust="spacingAndGlyphs" stroke="#000" stroke-width="0.35" font-style="italic">Figure</text>
<text class="b" x="1062.5" y="1539.8" font-size="19.5" textLength="85.2" lengthAdjust="spacingAndGlyphs" stroke="#000" stroke-width="0.35" font-style="italic">8—Front</text>
<text class="b" x="1156.6" y="1539.8" font-size="19.5" textLength="36.9" lengthAdjust="spacingAndGlyphs" stroke="#000" stroke-width="0.35" font-style="italic">End</text>
<text class="b" x="1203.6" y="1539.8" font-size="19.5" textLength="106.1" lengthAdjust="spacingAndGlyphs" stroke="#000" stroke-width="0.35" font-style="italic">Alignment</text>
<text class="b" x="1318.6" y="1539.8" font-size="19.5" textLength="56.5" lengthAdjust="spacingAndGlyphs" stroke="#000" stroke-width="0.35" font-style="italic">Chart</text>
<text font-size="16.2" x="1989.4" y="1406" textLength="77" lengthAdjust="spacing" stroke="#000" stroke-width="0.3">TPM-1129</text>
<line x1="216.5" y1="99.7" x2="229.4" y2="99.4" stroke="#000" stroke-width="0.9"/>
<line x1="233.1" y1="99.4" x2="242.3" y2="99.4" stroke="#000" stroke-width="0.9" stroke-dasharray="2 2"/>
<line x1="251.6" y1="99.7" x2="253.8" y2="99.7" stroke="#000" stroke-width="0.9"/>
<line x1="264.5" y1="99.4" x2="284.8" y2="99.4" stroke="#000" stroke-width="0.9" stroke-dasharray="1.5 3"/>
<line x1="303.3" y1="98.8" x2="310.7" y2="98.8" stroke="#000" stroke-width="0.9"/>
<line x1="314.4" y1="99.4" x2="327.4" y2="99.4" stroke="#000" stroke-width="0.9" stroke-dasharray="2 3"/>
<line x1="349.5" y1="98.8" x2="351.8" y2="98.8" stroke="#000" stroke-width="0.9"/>
<line x1="381.0" y1="98.4" x2="397.6" y2="98.4" stroke="#000" stroke-width="0.9" stroke-dasharray="5 2"/>
<line x1="403.1" y1="98.4" x2="421.6" y2="98.4" stroke="#000" stroke-width="0.9"/>
<line x1="406.8" y1="99.7" x2="395.7" y2="108.4" stroke="#000" stroke-width="0.9" stroke-dasharray="4 2"/>
<line x1="186.5" y1="133.0" x2="189.1" y2="133.0" stroke="#000" stroke-width="0.9"/>
<line x1="180.6" y1="140.4" x2="182.1" y2="140.4" stroke="#000" stroke-width="0.9"/>
<line x1="160.6" y1="279.0" x2="160.6" y2="308.6" stroke="#000" stroke-width="0.9"/>
<rect x="159.6" y="259.6" width="1" height="1" class="k"/><rect x="167" y="288" width="1" height="1" class="k"/>
<line x1="2317.7" y1="1069.7" x2="2317.7" y2="1086.3" stroke="#000" stroke-width="0.9"/>
<line x1="2319.4" y1="1179.4" x2="2319.4" y2="1206" stroke="#000" stroke-width="0.9"/>
<line x1="2319.4" y1="1312.4" x2="2319.4" y2="1327.4" stroke="#000" stroke-width="0.9"/>
<!-- d1.svg -->
<path class="l" d="M580.9 550.7 L580.9 579.9 L577 421.3 L575.7 327.2 L576 338.5 L576.9 325.7 L582.4 310.9 L588.3 296.2"/>
<path class="l" d="M588.3 296.2 C590.7 295.5 598 293.2 603.1 292.2 C608.1 291.2 613.6 290.3 618.8 290.2 C624.1 290.2 629.7 291 634.6 291.7 C639.4 292.5 645.7 294.2 647.9 294.7"/>
<path class="l" d="M647.9 294.7 L654.3 309 L660.7 321.8 L663.2 332.6 L664.1 353.3 L665.6 400 L664.8 365.3 L665.3 398.1 L664.8 401"/>
<path class="l" d="M664.8 401 C663.7 401.6 660.5 403.3 658.5 404.9 C656.6 406.5 654.2 408.3 652.9 410.6 C651.6 412.9 651.1 415.7 650.6 418.5 C650.1 421.3 650.4 425.1 650.1 427.6 C649.7 430 648.7 430.4 648.4 433.2 C648 436.1 647.6 440.8 647.8 444.6 C648 448.3 649.4 452.1 649.5 455.9 C649.6 459.7 648.4 463.2 648.4 467.2 C648.4 471.2 649.3 477.9 649.5 480"/>
<path class="l" d="M580.3 520 C580.4 526.5 580.8 547 581 559.2 C581.2 571.4 581.1 585.6 581.6 593.2 C582.2 600.8 582.9 601.2 584.2 604.9 C585.5 608.6 587.9 612.1 589.5 615.4 C591 618.7 591.9 621.7 593.4 624.5 C594.9 627.4 596 630.5 598.6 632.4 C601.2 634.2 605.1 634.9 609.1 635.6 C613 636.4 617.8 636.8 622.1 636.9 C626.5 637.1 630.8 636.7 635.2 636.3 C639.6 635.9 644.9 635.1 648.3 634.3 C651.6 633.6 653.5 634 655.5 631.7 C657.4 629.4 658.2 624.9 660 620.6 C661.9 616.4 665 610.8 666.6 606.2 C668.1 601.7 668.7 598.8 669.2 593.2 C669.6 587.5 669.4 583.2 669.2 572.3 C669 561.4 668.1 535.2 667.9 527.8"/>
<path class="l" d="M667.9 527.8 L665.3 525.2 L660 523.9 L659.4 520"/>
<path class="l" d="M470 336.8 L517 336.8"/>
<path class="l" d="M470 336.8 L471.2 601" stroke-dasharray="24 4 3 4"/>
<path class="l" d="M517 336.8 L518 637.6" stroke-dasharray="42 5"/>
<path class="l" d="M472.5 601 L472.5 603 L423.5 604.7"/>
<path class="l" d="M423.5 604.7 C422.9 604.9 420.8 604.9 419.6 606.2 C418.4 607.6 416.3 610.4 416.3 612.8 C416.3 615.2 418.7 618.7 419.6 620.6 C420.5 622.6 421.2 623.9 421.6 624.5"/>
<path class="l" d="M421.6 624.5 L421.6 638.3 L502.6 638.3"/>
<path class="l" d="M518 637.6 L596 637.6"/>
<path class="l" d="M613 637.2 L679.6 637.6"/>
<path class="l" d="M623.2 258 L624 320 L625.1 480 L624.7 520 L626.7 656" stroke-dasharray="26 4 3 4"/>
<path class="l" d="M617.3 258 L618.9 320 L621.2 393.6 L622.6 480 L624.7 560" stroke-dasharray="30 4 3 4"/>
<path class="l" d="M682.4 263.2 L649.6 655.9" stroke-dasharray="30 4 3 4"/>
<path class="l" d="M649.6 633.7 L649.6 655.9"/>
<path class="l" d="M571.4 463.8 L685.2 463.2" stroke-dasharray="24 4 4 4"/>
<path class="l" d="M583.2 369.8 C583.7 369.6 584.8 368.3 586.1 368.7 C587.3 369.1 589.5 370.8 590.6 372.1 C591.7 373.4 592.5 375 592.9 376.6 C593.3 378.2 593.2 380.2 593.1 381.7 C593 383.2 592.4 385 592.3 385.7"/>
<path class="t" d="M592.3 385.7 C592 386 590.6 386.9 590.6 387.4 C590.6 387.8 591.4 388.8 592.3 388.5 C593.2 388.2 595.6 386.1 596.3 385.7"/>
<path class="l" d="M593.1 382.8 L647.2 379.4"/>
<path class="l" d="M596.3 385.7 L616.7 384.1 L647.2 382.1"/>
<path class="l" d="M647.2 379.4 C647.6 379.2 649 379.2 649.5 377.8 C650 376.3 649.5 372.7 650.1 371 C650.6 369.2 651.7 367.5 652.9 367 C654.1 366.5 656.7 367.9 657.4 368.1"/>
<path class="t" d="M647.2 382.1 C647.9 381.6 650.4 381.1 651.2 379.4 C652 377.8 651.5 373.7 652 372.1 C652.5 370.5 653.2 370.3 654 369.8 C654.8 369.4 656.4 369.4 656.8 369.3"/>
<path class="l" d="M590.1 563.8 C590.6 563.9 591.9 564.8 592.7 564.4 C593.6 564.1 594.8 564 595.3 561.8 C595.9 559.6 596.3 553.6 596 551.4 C595.7 549.1 593.4 549 593.4 548.1 C593.4 547.2 594.9 546.4 596 546.1 C597.1 545.9 598.9 546.3 599.9 546.8 C600.9 547.3 601.6 548.6 601.9 549"/>
<path class="l" d="M601.9 549 L648.3 547.8"/>
<path class="l" d="M648.3 547.8 C648.9 548.3 651.1 549 652.2 550.7 C653.3 552.4 653.6 556 654.8 557.9 C656 559.7 658.6 561.2 659.4 561.8"/>
<path class="t" d="M592.1 565.5 C592.7 565.1 595 565.4 596 563.1 C597 560.9 597 554 598 552 C598.9 550.1 601.2 551.5 601.9 551.4"/>
<path class="l" d="M601.9 551.4 L647.6 550.3"/>
<path class="t" d="M647.6 550.3 C648.1 550.6 649.4 550.5 650.2 552 C651.1 553.5 651.6 557.2 652.8 559.2 C654 561.2 656.7 563 657.4 563.8"/>
<line x1="541.9" y1="385.9" x2="528" y2="385.5" stroke="#000" stroke-width="2.2"/><polygon class="k" points="517,385.1 528.1,382.3 527.9,388.7"/>
<line x1="560.6" y1="385.5" x2="576.3" y2="384.9" stroke="#000" stroke-width="2.2"/><polygon class="k" points="588.3,384.5 576.5,388.1 576.2,381.7"/>
<text class="b" x="542.5" y="394.6" font-size="24.3" textLength="16.4" lengthAdjust="spacingAndGlyphs" stroke="#000" stroke-width="0.6">A</text>
<line x1="543.1" y1="547.7" x2="529.9" y2="547.6" stroke="#000" stroke-width="2.2"/><polygon class="k" points="518.9,547.4 529.9,544.4 529.9,550.8"/>
<line x1="561.4" y1="547.4" x2="580.4" y2="547.4" stroke="#000" stroke-width="2.2"/><polygon class="k" points="591.4,547.4 580.4,550.6 580.4,544.2"/>
<text class="b" x="544.8" y="556.8" font-size="22.9" textLength="15.1" lengthAdjust="spacingAndGlyphs" stroke="#000" stroke-width="0.6">B</text>
<line x1="604.5" y1="650" x2="616.7" y2="650" stroke="#000" stroke-width="2.2"/><polygon class="k" points="626.7,650 616.7,653.2 616.7,646.8"/>
<line x1="675.1" y1="652.2" x2="659.6" y2="651.3" stroke="#000" stroke-width="2.2"/><polygon class="k" points="649.6,650.7 659.8,648.1 659.4,654.5"/>
<path class="l" d="M626.7 637.6 L626.7 656.5"/>
<text class="b" x="572.6" y="275.5" font-size="25.6" textLength="15.3" lengthAdjust="spacingAndGlyphs" stroke="#000" stroke-width="0.6">C</text>
<line x1="589.3" y1="266.8" x2="605.4" y2="265.8" stroke="#000" stroke-width="2.2"/><polygon class="k" points="616.4,265.1 605.6,269 605.2,262.6"/>
<text class="b" x="643" y="275.3" font-size="25.3" textLength="18.8" lengthAdjust="spacingAndGlyphs" stroke="#000" stroke-width="0.6">D</text>
<polygon class="k" points="623.7,265.8 634.7,262.6 634.7,269"/>
<line class="h" x1="632.6" y1="265.8" x2="644.4" y2="265.8"/>
<line x1="659.2" y1="268.1" x2="670" y2="270" stroke="#000" stroke-width="2.2"/><polygon class="k" points="681.9,272 669.5,273.1 670.6,266.8"/>
<path class="l" d="M617.3 258.2 L617.8 275.5"/>
<path class="l" d="M623.3 259.2 L623.5 275.5"/>
<path class="l" d="M682.6 263.2 L682.1 275.5"/>
<path class="l" d="M665 395 C664.9 396 666.4 398.3 664.5 400.9 C662.6 403.5 655.9 407.5 653.6 410.8 C651.3 414 651.3 417 650.7 420.6 C650 424.2 650.2 428.2 649.7 432.4 C649.2 436.7 648 442 647.7 446.2 C647.5 450.5 647.9 455.3 648.2 458.1 C648.6 460.8 649.8 461 649.7 463 C649.6 465 648 464.8 647.7 469.9 C647.5 475 648 487.9 648.2 493.5 C648.5 499.1 649.2 499.9 649.2 503.4 C649.2 506.8 647.7 511.6 648.2 514.2 C648.7 516.8 651.5 518.3 652.2 519.1"/>
<path class="l" d="M652.2 519.1 L658.6 519.3 L659.1 524.1 L666.9 527 L667.9 542.8 L667.4 555"/>
<path class="l" d="M655.1 428.5 C654.5 429 652.2 429.8 651.2 431.5 C650.2 433.1 649.5 435.9 649.2 438.3 C649 440.8 649.6 444.9 649.7 446.2"/>
<path class="l" d="M652.2 446.2 L650.7 450.2 L650.7 481.7 L653.6 485.6"/>
<path class="l" d="M652.2 499.4 L652.2 507.3 L672.4 507.8"/>
<path class="l" d="M662.5 486.1 L662.5 508.3"/>
<path class="l" d="M661.5 508.3 L661.5 526"/>
<path class="l" d="M667.2 428 L666 483.7"/>
<path class="m" d="M660.5 427.5 L660.5 422.1 L662 420.8 L674.8 420.8 L676.3 422.1 L676.3 427.5"/>
<path class="l" d="M668.4 420.8 L668.4 427.5"/>
<path class="h" d="M655.1 428 L677.3 428.3"/>
<path class="h" d="M654.6 446.9 L679.3 448.7"/>
<path class="l" d="M655.1 448.7 L655.1 464 L665.5 464"/>
<path class="l" d="M657.1 448.7 L657.1 455.1"/>
<path class="t" d="M656.6 450.2 L667.4 451.7"/>
<path class="m" d="M654.6 484.7 L654.6 473.8 L667.4 473.8"/>
<path class="l" d="M654.6 478.7 L674.3 479.2"/>
<path class="h" d="M653.2 485.1 L673.3 485.6"/>
<path class="l" d="M673.3 480.7 L675.3 480.7 L673.3 485.6"/>
<path class="l" d="M665 464 L665 473.8"/>
<path class="l" d="M679.3 448.7 C678.9 448 677.6 446 677.3 444.3 C677 442.5 677.1 440.3 677.3 438.3 C677.5 436.4 677.5 434.1 678.3 432.4 C679.1 430.8 680.6 429.4 682.2 428.5 C683.9 427.6 686.3 427 688.1 427 C689.9 427 691.2 427.4 693.1 428.5 C694.9 429.6 698 432.6 699 433.4"/>
<path class="l" d="M699 433.4 L713.7 440.8 L728.5 447.2 L743.3 453.6 L758.1 460 L766 460.5"/>
<path class="l" d="M774.8 461 L774.8 471.4 L772.9 471.1"/>
<path class="l" d="M772.9 471.1 C771.2 470.9 766.3 470.8 763 470.4 C759.7 469.9 757.3 469.5 753.2 468.4 C749 467.3 743.3 465.5 738.4 464 C733.4 462.4 728.5 460.8 723.6 459 C718.7 457.3 712.9 455 708.8 453.6 C704.7 452.2 702.2 451.5 699 450.7 C695.7 449.8 691.7 449.4 689.1 448.7 C686.5 448 684.8 447.5 683.2 446.2 C681.6 445 680.4 442.9 679.8 441.3 C679.1 439.7 679 437.9 679.3 436.4 C679.5 434.9 680.1 433.6 681.2 432.4 C682.4 431.3 684.5 430.2 686.2 429.7 C687.8 429.2 689.6 429.1 691.1 429.5 C692.6 429.9 694.4 431.5 695 431.9"/>
<path class="l" d="M776.8 471.4 L780.7 471.4"/>
<path class="l" d="M679.3 448.7 C681.2 449.4 687.5 451.4 691.1 452.6 C694.7 453.9 698 454.7 700.9 456.1 C703.9 457.5 706.2 458.7 708.8 461 C711.4 463.3 714.1 466.8 716.7 469.9 C719.3 473 722.3 476.8 724.6 479.7 C726.9 482.7 728.5 485.3 730.5 487.6 C732.5 489.9 734.6 492 736.4 493.5 C738.2 495.1 739.4 496.4 741.3 497 C743.3 497.6 747.1 497.1 748.2 497.2"/>
<path class="l" d="M748.2 497.2 L757.1 496.5 L769.9 496.8 L798.5 497.5"/>
<path class="l" d="M674.3 479.2 C675.8 479.3 680.4 479 683.2 479.7 C686 480.5 688.8 481.9 691.1 483.7 C693.4 485.5 695 487.9 697 490.6 C699 493.2 701.1 497 702.9 499.4 C704.7 501.9 706.7 504 707.8 505.3 C709 506.7 709.5 507 709.8 507.3"/>
<path class="l" d="M808.3 496.3 L839.9 496.3 L835.4 502.4 L840.8 507.3 L837.9 513.2 L839.9 528.5"/>
<path class="l" d="M809.3 529 L839.9 528.5" stroke-dasharray="30 4 3 4"/>
<path class="m" d="M676.3 494 L676.3 488.6 L687.6 488.6 L687.6 494"/>
<path class="l" d="M678.3 488.6 L678.3 494"/>
<path class="m" d="M675.3 504.9 C675.1 504.5 674.2 504.1 673.8 502.9 C673.5 501.7 673.3 498.9 673.3 497.5 C673.4 496.1 674.2 495 674.3 494.5"/>
<path class="m" d="M674.3 494.5 L689.1 494.5"/>
<path class="m" d="M689.1 494.5 C689.3 495 690.1 496 690.1 497.5 C690.1 498.9 689.5 502.1 689.1 503.4 C688.7 504.6 687.9 504.6 687.6 504.9"/>
<path class="m" d="M675.3 504.9 L689.1 504.9" stroke-dasharray="8 4"/>
<path class="h" d="M674.3 509.5 L691.1 509.9"/>
<path class="l" d="M676.3 505.3 L676.3 509.3"/>
<path class="l" d="M689.1 505.3 L691.1 509.3"/>
<path class="m" d="M702.9 510.3 L672.4 510.3 L672.4 530.5 L692.1 530.5 L693.1 527 L694 523.1 L703.4 523.1"/>
<path class="m" d="M702.4 511.3 L726.1 511.3"/>
<path class="m" d="M702.9 522.7 L726.1 522.1"/>
<path class="m" d="M701.9 510.8 L701.9 523.1"/>
<path class="m" d="M725.6 511.3 L725.6 522.1"/>
<path class="h" d="M702.9 516.9 L725.6 515.9"/>
<path class="m" d="M703.4 510.8 L703.4 506.3 L710.3 506.3 L710.3 510.8"/>
<path class="m" d="M716.7 510.3 L716.7 507.3 L718.2 506.3 L721.6 506.3 L722.6 507.3 L722.6 510.3"/>
<path class="m" d="M703.9 523.6 L703.9 528.5 L711.8 528.5 L711.8 523.6"/>
<path class="m" d="M716.7 523.6 L716.7 528.5 L723.6 528.5 L723.6 523.6"/>
<path class="t" d="M707.8 523.6 L707.8 528.5"/>
<path class="t" d="M720.1 523.6 L720.1 528.5"/>
<path class="l" d="M726.6 511.3 L744.3 511.3 L744.3 510.1 L807.8 510.1 L808.3 522.1"/>
<path class="l" d="M727.5 521.6 L747.2 522.1 L807.3 522.1"/>
<path class="l" d="M739.4 511.7 L739.4 521.6"/>
<path class="l" d="M747.2 510.3 L747.2 522.1"/>
<path class="l" d="M725.6 524.1 C726.9 524.7 730.5 527.1 733.4 528 C736.4 528.9 739.2 529.3 743.3 529.5 C747.4 529.7 755.6 529.4 758.1 529.4"/>
<path class="l" d="M758.1 529.4 L807.3 529.2"/>
<path class="l" d="M769.9 523.6 L807.3 523.1" stroke-dasharray="20 4 3 4"/>
<text class="b" x="787.2" y="449.2" font-size="24.7" textLength="12.7" lengthAdjust="spacingAndGlyphs" stroke="#000" stroke-width="0.6">E</text>
<line class="l" x1="793.5" y1="452.1" x2="793.5" y2="471.4"/>
<line class="l" x1="793.5" y1="470.4" x2="800.9" y2="470.4"/>
<line x1="793.5" y1="483.7" x2="793.5" y2="480.9" stroke="#000" stroke-width="2.2"/><polygon class="k" points="793.5,470.9 796.5,480.9 790.5,480.9"/>
<line x1="793.5" y1="481.7" x2="793.5" y2="487" stroke="#000" stroke-width="2.2"/><polygon class="k" points="793.5,497 790.5,487 796.5,487"/>
<line x1="766.5" y1="480.2" x2="766.5" y2="486.2" stroke="#000" stroke-width="1.6"/><polygon class="k" points="766.5,496.2 763.1,486.2 769.9,486.2"/>
<line x1="766.5" y1="536.9" x2="766.5" y2="522.5" stroke="#000" stroke-width="1.8"/><polygon class="k" points="766.5,510.5 769.9,522.5 763.1,522.5"/>
<text class="b" x="761.6" y="558.6" font-size="23.7" textLength="12.1" lengthAdjust="spacingAndGlyphs" stroke="#000" stroke-width="0.6">F</text>
<!-- d2.svg -->
<ellipse class="l" cx="1824" cy="467" rx="166.4" ry="173.2" stroke-dasharray="46 5 4 5"/>
<ellipse class="l" cx="1824" cy="467.4" rx="91.8" ry="97.4" stroke-dasharray="40 5 4 5"/>
<ellipse class="l" cx="1825" cy="467.6" rx="78" ry="80.4" stroke-dasharray="34 5"/>
<path class="l" d="M1823.8 281.6 L1824.4 564.8" stroke-dasharray="30 4 3 4"/>
<path class="l" d="M1824.4 587.9 L1824.8 654.1" stroke-dasharray="40 4 3 4"/>
<path class="t" d="M1830.6 304 L1826.2 410" stroke-dasharray="26 4 3 4"/>
<text class="b" x="1778.7" y="326.2" font-size="22.3" textLength="14.0" lengthAdjust="spacingAndGlyphs" stroke="#000" stroke-width="0.4">R</text>
<text class="b" x="1835" y="311.4" font-size="22.3" textLength="20.0" lengthAdjust="spacingAndGlyphs" stroke="#000" stroke-width="0.4">N</text>
<text class="b" x="1848.4" y="334.8" font-size="22.8" textLength="14.1" lengthAdjust="spacingAndGlyphs" stroke="#000" stroke-width="0.4">P</text>
<line x1="1793.3" y1="322.5" x2="1813.5" y2="335.2" stroke="#000" stroke-width="1.8"/><polygon class="k" points="1821.1,340.1 1812,337.6 1815,332.9"/>
<line x1="1838.6" y1="312.4" x2="1830.9" y2="329.7" stroke="#000" stroke-width="1.8"/><polygon class="k" points="1827.2,337.9 1828.3,328.5 1833.4,330.8"/>
<line x1="1847.8" y1="326.2" x2="1836" y2="334.1" stroke="#000" stroke-width="1.8"/><polygon class="k" points="1829.4,338.5 1834.5,331.8 1837.6,336.4"/>
<line class="l" x1="1641.3" y1="454.9" x2="1795.2" y2="461.1"/>
<line class="l" x1="1850.5" y1="463.3" x2="2007.2" y2="469.7"/>
<line class="t" x1="1641.3" y1="454.9" x2="1641.9" y2="458.3"/>
<line class="t" x1="2007.2" y1="469.7" x2="2006.6" y2="473.1"/>
<line class="l" x1="1643.1" y1="458.4" x2="1795.9" y2="464.6" stroke-dasharray="65 3 31 4"/>
<line class="l" x1="1845.7" y1="466.6" x2="2006.3" y2="473.1" stroke-dasharray="65 3 31 4"/>
<line class="t" x1="1643.1" y1="458.4" x2="1643.7" y2="461.8"/>
<line class="t" x1="2006.3" y1="473.1" x2="2005.7" y2="476.5"/>
<line class="l" x1="1644.8" y1="461.9" x2="1796.5" y2="468" stroke-dasharray="75 3 34 2"/>
<line class="l" x1="1845.7" y1="470" x2="2004.6" y2="476.4" stroke-dasharray="75 3 34 2"/>
<line class="t" x1="1644.8" y1="461.9" x2="1645.4" y2="465.3"/>
<line class="t" x1="2004.6" y1="476.4" x2="2004" y2="479.8"/>
<line class="l" x1="1659.6" y1="465.9" x2="1797.1" y2="471.4" stroke-dasharray="54 2 50 4"/>
<line class="l" x1="1845.7" y1="473.4" x2="1987.1" y2="479.1" stroke-dasharray="54 2 50 4"/>
<line class="t" x1="1659.6" y1="465.9" x2="1660.2" y2="469.3"/>
<line class="t" x1="1987.1" y1="479.1" x2="1986.5" y2="482.6"/>
<line class="l" x1="1673.6" y1="469.9" x2="1801.6" y2="475" stroke-dasharray="68 2 39 4"/>
<line class="l" x1="1845.7" y1="476.8" x2="1971.5" y2="481.9" stroke-dasharray="68 2 39 4"/>
<line class="t" x1="1673.6" y1="469.9" x2="1674.2" y2="473.3"/>
<line class="t" x1="1971.5" y1="481.9" x2="1970.9" y2="485.3"/>
<line class="l" x1="1692.7" y1="474.1" x2="1801.6" y2="478.5" stroke-dasharray="84 3 42 2"/>
<line class="l" x1="1845.7" y1="480.2" x2="1957.5" y2="484.8" stroke-dasharray="84 3 42 2"/>
<line class="t" x1="1692.7" y1="474.1" x2="1693.3" y2="477.5"/>
<line class="t" x1="1957.5" y1="484.8" x2="1956.9" y2="488.2"/>
<line class="l" x1="1706.7" y1="478" x2="1801.6" y2="481.9" stroke-dasharray="56 3 38 2"/>
<line class="l" x1="1845.7" y1="483.7" x2="1934.9" y2="487.3" stroke-dasharray="56 3 38 2"/>
<line class="t" x1="1706.7" y1="478" x2="1707.3" y2="481.5"/>
<line class="t" x1="1934.9" y1="487.3" x2="1934.3" y2="490.7"/>
<line class="l" x1="1722.3" y1="482.1" x2="1801.6" y2="485.3" stroke-dasharray="66 3 37 2"/>
<line class="l" x1="1845.7" y1="487.1" x2="1919.2" y2="490.1" stroke-dasharray="66 3 37 2"/>
<line class="t" x1="1722.3" y1="482.1" x2="1722.9" y2="485.5"/>
<line class="t" x1="1919.2" y1="490.1" x2="1918.6" y2="493.5"/>
<line class="l" x1="1741.5" y1="486.3" x2="1801.6" y2="488.7" stroke-dasharray="69 3 48 2"/>
<line class="l" x1="1845.7" y1="490.5" x2="1905.3" y2="492.9" stroke-dasharray="69 3 48 2"/>
<line class="t" x1="1808.4" y1="489" x2="1837.7" y2="490.2" stroke-dasharray="12 5"/>
<line class="t" x1="1741.5" y1="486.3" x2="1742.1" y2="489.7"/>
<line class="t" x1="1905.3" y1="492.9" x2="1904.7" y2="496.3"/>
<line class="l" x1="1757.2" y1="490.3" x2="1801.6" y2="492.1" stroke-dasharray="88 3 49 4"/>
<line class="l" x1="1845.7" y1="493.9" x2="1889.6" y2="495.7" stroke-dasharray="88 3 49 4"/>
<line class="t" x1="1808.4" y1="492.4" x2="1837.7" y2="493.6" stroke-dasharray="12 5"/>
<line class="t" x1="1757.2" y1="490.3" x2="1757.8" y2="493.8"/>
<line class="t" x1="1889.6" y1="495.7" x2="1889" y2="499.1"/>
<line class="l" x1="1769.4" y1="494.3" x2="1801.6" y2="495.6" stroke-dasharray="65 2 40 3"/>
<line class="l" x1="1845.7" y1="497.3" x2="1875.6" y2="498.6" stroke-dasharray="65 2 40 3"/>
<line class="t" x1="1808.4" y1="495.8" x2="1837.7" y2="497" stroke-dasharray="12 5"/>
<line class="t" x1="1769.4" y1="494.3" x2="1770" y2="497.7"/>
<line class="t" x1="1875.6" y1="498.6" x2="1875" y2="502"/>
<line class="l" x1="1779.8" y1="498.1" x2="1801.6" y2="499" stroke-dasharray="67 2 60 3"/>
<line class="l" x1="1845.7" y1="500.8" x2="1861.7" y2="501.4" stroke-dasharray="67 2 60 3"/>
<line class="t" x1="1808.4" y1="499.3" x2="1837.7" y2="500.4" stroke-dasharray="12 5"/>
<line class="t" x1="1779.8" y1="498.1" x2="1780.4" y2="501.5"/>
<line class="t" x1="1861.7" y1="501.4" x2="1861.1" y2="504.8"/>
<line class="l" x1="1797.2" y1="502.2" x2="1801.6" y2="502.4" stroke-dasharray="50 3 44 4"/>
<line class="l" x1="1845.7" y1="504.2" x2="1847.8" y2="504.3" stroke-dasharray="50 3 44 4"/>
<line class="t" x1="1808.4" y1="502.7" x2="1837.7" y2="503.9" stroke-dasharray="12 5"/>
<path class="l" d="M1641.3 454.9 L1642.5 458.4 L1645.3 465.9"/>
<path class="l" d="M2007.2 469.7 L2006 474 L2004.6 477"/>
<path class="l" d="M1731.9 456.6 L1739.8 456.6 L1739.8 487.1 L1731.9 487.1 Z" fill="#fff"/>
<path class="l" d="M1907 463.6 L1914.8 463.6 L1914.8 493.2 L1907 493.2 Z" fill="#fff"/>
<path class="m" d="M1810.4 436.4 C1810.6 435.8 1810.3 433.5 1811.2 432.4 C1812.2 431.4 1813.9 430.5 1816 430 C1818.2 429.5 1821.4 429.5 1824.1 429.6 C1826.7 429.7 1830.1 429.8 1832.1 430.4 C1834.1 431 1835.3 432.4 1836.1 433.2 C1836.8 434.1 1836.4 435.2 1836.5 435.6"/>
<path class="h" d="M1812 439.6 L1812 458"/>
<path class="l" d="M1811.6 458 L1809.6 474.1 L1808 480.5 L1809.6 483.7 L1822.4 484.1"/>
<path class="m" d="M1836.1 440.4 C1836.2 443.4 1836.9 452.7 1837 458 C1837.2 463.4 1837.2 469.1 1836.9 472.4 C1836.6 475.8 1836.3 476.6 1835.3 478.1 C1834.2 479.5 1832.5 480.6 1830.5 481.3 C1828.5 481.9 1824.5 481.7 1823.3 481.8"/>
<path class="l" d="M1812 440.8 C1810.6 441.7 1805.8 443.7 1803.2 446 C1800.7 448.4 1798.2 452 1796.8 454.8 C1795.4 457.6 1794.7 460.4 1794.8 462.8 C1795 465.2 1796.2 467.4 1797.6 469.2 C1799 471.1 1801.5 472.2 1803.2 474.1 C1805 475.9 1807.2 479.4 1808 480.5"/>
<path class="l" d="M1836.1 440.8 C1837.1 441.7 1840.5 444 1842.5 446 C1844.5 448.1 1846.7 450.4 1848.1 453.2 C1849.4 456 1850.1 461.2 1850.5 462.8"/>
<circle class="t" cx="1806.8" cy="449.2" r="2.8"/>
<circle class="t" cx="1800.8" cy="458" r="2.8"/>
<path class="t" d="M1812.8 451.6 L1834.5 451.6" stroke-dasharray="6 3"/>
<path class="t" d="M1840.1 447.6 L1844.9 458 L1844.9 462.8"/>
<path class="l" d="M1801.6 472.4 L1801.6 500.5"/>
<path class="l" d="M1808 482.1 L1808 500.5" stroke-dasharray="7 3"/>
<path class="m" d="M1838.1 451.6 L1838.1 502.1"/>
<path class="l" d="M1844.1 458 L1844.1 502.1"/>
<path class="l" d="M1797.6 501.3 L1844.1 501.7" stroke-dasharray="9 3"/>
<path class="m" d="M1798.4 506.6 L1819.2 507.3"/>
<path class="l" d="M1845.7 502.9 L1845.7 509.3"/>
<path class="l" d="M1799.2 506.9 L1799.2 514.9 L1808 514.9 L1808.8 507.3"/>
<path class="t" d="M1802.4 507.3 L1802.4 514.9"/>
<path class="t" d="M1806 507.3 L1806 514.9"/>
<ellipse class="k" cx="1804" cy="517.1" rx="3.6" ry="2.3"/>
<path class="l" d="M1836.1 509.3 L1836.1 518.1"/>
<path class="l" d="M1844.1 509.3 L1844.1 526.1 L1835.7 526.1 L1835.7 518.9 L1844.1 518.5"/>
<ellipse class="k" cx="1839.7" cy="528.1" rx="3.8" ry="2.4"/>
<path class="l" d="M1809.6 507.3 C1810.7 507.4 1814.4 507 1816 507.8 C1817.6 508.7 1818.6 510.1 1819.2 512.5 C1819.8 514.9 1820.2 520 1819.6 522.1 C1819.1 524.2 1817.7 524.6 1816 525.3 C1814.4 526 1810.7 526 1809.6 526.1" stroke-dasharray="9 3"/>
<path class="l" d="M1809.6 526.1 L1809.2 530.9 L1814.4 532.5 L1832.1 532.1 L1833.3 527.7" stroke-dasharray="9 3"/>
<path class="l" d="M1833.3 527.7 C1832.4 527.3 1829.6 526.2 1828.1 525.3 C1826.5 524.4 1824.8 524.1 1824.1 522.1 C1823.3 520.1 1823.4 515.4 1823.7 513.3 C1823.9 511.1 1824.7 510.1 1825.7 509.3 C1826.7 508.4 1829 508.3 1829.7 508.1"/>
<!-- d3.svg -->
<path class="l" d="M695.9 811.1 L717.4 811.8"/>
<path class="l" d="M752.7 811.5 L820.7 812.4" stroke-dasharray="28 5 4 5"/>
<path class="l" d="M820.7 812.4 C822.4 813 827.4 814 831.1 815.7 C834.8 817.3 838.1 818.7 842.9 822.2 C847.7 825.7 854.4 831.9 859.9 836.6 C865.3 841.3 870.5 846 875.5 850.3 C880.6 854.7 885.6 859.6 889.9 862.7 C894.3 865.9 898 867.7 901.7 869.3 C905.4 870.8 910.4 871.4 912.1 871.9"/>
<path class="l" d="M912.1 871.9 L933 871.9"/>
<path class="l" d="M703.1 815.7 L716.1 815.4"/>
<path class="l" d="M729.2 816.3 L738.3 816.3"/>
<path class="l" d="M780.2 816.3 L816.7 816.7"/>
<path class="l" d="M816.7 816.7 C818.7 817.3 824.6 818.7 828.5 820.3 C832.4 821.8 835.5 822.8 840.3 826.1 C845.1 829.5 851.8 835.7 857.3 840.5 C862.7 845.3 868.1 850.5 872.9 854.9 C877.7 859.2 881.6 863.7 886 866.6 C890.4 869.6 895.8 871.4 899.1 872.5 C902.3 873.6 904.5 873.1 905.6 873.2"/>
<path class="l" d="M697.2 811.8 L698.5 817 L699.8 835.3" stroke-dasharray="9 5"/>
<path class="l" d="M699.8 835.9 L703.1 835.3 L735.7 836.6"/>
<path class="m" d="M699.8 837.2 L701.8 840.5 L739.7 842.5 L768.4 843.1"/>
<path class="l" d="M757.9 837.2 L805 838.2 L810.2 836.6 L819.4 836.8" stroke-dasharray="28 5 4 5"/>
<path class="l" d="M819.4 836.8 C821.3 837.7 826.5 839.2 831.1 841.8 C835.7 844.4 841.4 848.6 846.8 852.3 C852.2 856 858.3 859.9 863.8 864 C869.2 868.2 875.1 873.6 879.5 877.1 C883.8 880.6 886.7 883.3 889.9 884.9 C893.2 886.6 897.5 886.6 899.1 886.9"/>
<path class="l" d="M793.2 842.5 L807.6 842.5 L811.5 840.5 L820.7 840.8"/>
<path class="l" d="M820.7 840.8 C822.8 841.9 828.3 844.3 833.7 847.7 C839.2 851.1 846.8 856.7 853.3 861.4 C859.9 866.1 867.9 871.9 872.9 875.8 C877.9 879.7 879.9 882.5 883.4 884.9 C886.9 887.3 890.1 888.4 893.8 890.2 C897.5 891.9 902.1 893.9 905.6 895.4 C909.1 896.9 911.7 898.5 914.7 899.3 C917.8 900.1 922.4 899.9 923.9 900"/>
<path class="l" d="M793.2 842.5 L793.2 867.9"/>
<path class="l" d="M793.2 878.4 L793.2 917.6" stroke-dasharray="8 4 26 6"/>
<path class="l" d="M707 918 L920 917.6"/>
<path class="t" d="M740.3 890.2 L740.3 899.3" stroke-dasharray="3 3"/>
<path class="t" d="M740.3 914.3 L740.3 917.6"/>
<path class="l" d="M875.5 845.1 L886 844.4 L887.6 847 L887.6 856.2 L875.5 845.1"/>
<path class="l" d="M904.3 873.2 L899.1 886.9 L906.3 888.9 L906.9 873.8"/>
<path class="l" d="M876.9 888.9 L878.2 894.1 L882.1 893.4 L891.2 889.5"/>
<circle class="t" cx="911.5" cy="881" r="0.9"/>
<ellipse class="t" cx="918" cy="881.7" rx="1.6" ry="2.6"/>
<path class="l" d="M923.9 882.3 L923.9 890.2"/>
<path class="l" d="M922.6 857.5 L922.6 871.9" stroke-dasharray="7 4"/>
<path class="l" d="M923.9 849 L934.3 848.3 L935 871.9"/>
<path class="l" d="M934.3 873.2 L933.7 899.3" stroke-dasharray="7 4"/>
<path class="l" d="M916.1 900 L933 900.6"/>
<path class="l" d="M916.1 900.6 L915.4 916.3 L926.5 916.3 L927.8 901.3"/>
<path class="l" d="M931.7 834.2 L918 927.4"/>
<line x1="906.9" y1="849" x2="917.8" y2="849" stroke="#000" stroke-width="2.6"/><polygon class="k" points="929.8,849 917.8,852.4 917.8,845.6"/>
<line x1="976.8" y1="849" x2="966.9" y2="849" stroke="#000" stroke-width="2.6"/><polygon class="k" points="955.9,849 966.9,845.8 966.9,852.2"/>
<text class="b" x="938.3" y="859.5" font-size="25.6" textLength="16.3" lengthAdjust="spacingAndGlyphs" stroke="#000" stroke-width="0.8">V</text>
<line x1="897.8" y1="916.6" x2="908" y2="917" stroke="#000" stroke-width="2.6"/><polygon class="k" points="920,917.6 907.8,920.4 908.1,913.6"/>
<text class="b" x="931.5" y="926.1" font-size="23.7" textLength="17.6" lengthAdjust="spacingAndGlyphs" stroke="#000" stroke-width="0.8">U</text>
<path class="l" d="M955.5 918.5 L955.5 816.1 L972.9 816.1 L971.8 904.3"/>
<path class="l" d="M971.8 904.8 L1014.3 904.8 L1015.4 918.5"/>
<line x1="997.9" y1="918.5" x2="971.9" y2="918.5" stroke="#000" stroke-width="2.4"/><polygon class="k" points="960.9,918.5 971.9,915.3 971.9,921.7"/>
<line x1="976.2" y1="848.8" x2="967.6" y2="848.8" stroke="#000" stroke-width="2.4"/><polygon class="k" points="956.6,848.8 967.6,845.6 967.6,852"/>
<path class="l" d="M1029.5 918.5 L1030.2 905.4 L1039.3 904.8"/>
<path class="l" d="M1026.3 918.7 L1136.2 919.1"/>
<path class="l" d="M1058.9 905.4 L1087.2 905.4 L1087.2 918.5"/>
<path class="l" d="M1072 864 L1073.1 816.6 L1089.4 816.6" stroke-dasharray="30 5"/>
<path class="l" d="M1090.5 816.6 L1090.5 918.5"/>
<path class="l" d="M1109 888 L1110.1 814 L1127.5 812.9"/>
<path class="l" d="M1128.6 814 L1128.6 898.9" stroke-dasharray="8 4"/>
<line x1="1067.6" y1="854.2" x2="1079.4" y2="854.2" stroke="#000" stroke-width="2.4"/><polygon class="k" points="1089.4,854.2 1079.4,857.2 1079.4,851.2"/>
<line x1="1129.7" y1="854.2" x2="1123.4" y2="854.2" stroke="#000" stroke-width="2.4"/><polygon class="k" points="1113.4,854.2 1123.4,851.2 1123.4,857.2"/>
<text class="b" x="1094.2" y="865.1" font-size="24.3" textLength="12.4" lengthAdjust="spacingAndGlyphs" stroke="#000" stroke-width="0.6">S</text>
<line x1="1066.5" y1="909.3" x2="1079.4" y2="909.6" stroke="#000" stroke-width="2.4"/><polygon class="k" points="1089.4,909.8 1079.4,912.6 1079.5,906.6"/>
<line x1="1135.1" y1="909.8" x2="1125.5" y2="909.8" stroke="#000" stroke-width="2.4"/><polygon class="k" points="1115.5,909.8 1125.5,906.8 1125.5,912.8"/>
<text class="b" x="1093.5" y="916.3" font-size="24.3" textLength="11.5" lengthAdjust="spacingAndGlyphs" stroke="#000" stroke-width="0.6">T</text>
<path class="l" d="M1094.9 843.4 L1102.5 836.8 L1110.1 836.8"/>
<path class="m" d="M1094.9 843.8 L1137.3 843.8"/>
<path class="l" d="M1127.5 835.7 L1136.2 840.1 L1143.9 841.2 L1143.9 844.4 L1137.3 844.4"/>
<path class="l" d="M1112.3 844.9 L1135.1 844.9 L1128.6 894.5" stroke-dasharray="7 4"/>
<path class="l" d="M1103.6 844.4 L1109 888"/>
<path class="l" d="M1110.1 872.8 L1128.6 872.8"/>
<path class="l" d="M1112.3 903.2 L1128.6 903.2" stroke-dasharray="8 4"/>
<path class="t" d="M1115.5 915.2 L1126.4 915.2" stroke-dasharray="5 3"/>
<!-- d4.svg -->
<path class="l" d="M1294.4 815.3 L1297 821.8 L1294.4 828.3 L1298.3 832.3 L1294.4 838.8 L1299.6 840.8 L1294.4 844 L1296.3 847.3"/>
<path class="l" d="M1294.4 815.3 L1387.1 815.5"/>
<path class="l" d="M1387.1 815.5 C1388.9 815.9 1394.1 816.4 1397.6 817.9 C1401.1 819.4 1404.6 821.2 1408.1 824.4 C1411.5 827.7 1415 832.7 1418.5 837.5 C1422 842.3 1425.9 849 1429 853.2 C1432 857.3 1434.2 860.2 1436.8 862.3 C1439.4 864.5 1441.4 865.4 1444.6 866 C1447.9 866.5 1454.4 865.7 1456.4 865.6"/>
<path class="l" d="M1296.3 847.3 L1371.5 848.2 L1380.6 847.7 L1388.5 848.6"/>
<path class="l" d="M1388.5 848.6 C1389.8 850 1393.5 853.5 1396.3 857.1 C1399.1 860.7 1402.4 866 1405.4 870.2 C1408.5 874.3 1411.5 878.8 1414.6 881.9 C1417.6 885.1 1420 887.1 1423.7 889.1 C1427.4 891.1 1431.8 892.5 1436.8 893.7 C1441.8 894.9 1448 895.8 1453.8 896.3 C1459.6 896.8 1468.5 896.5 1471.4 896.6"/>
<path class="l" d="M1310.7 847.9 L1310.7 925.7 L1371.5 926.3 L1372.1 848.6"/>
<path class="l" d="M1458.4 866.2 L1460.3 841.4 L1472.7 843 L1471.4 897.6"/>
<path class="l" d="M1470.8 866.9 L1474.7 868.9 L1474 872.8 L1470.8 873.4"/>
<path class="l" d="M1466.2 836.2 L1461 897.6 L1457.7 938.1" stroke-dasharray="18 4 3 4"/>
<path class="t" d="M1461 870.2 L1469.5 870.2"/>
<path class="l" d="M1461.6 895 L1471.4 898.3"/>
<path class="m" d="M1455.7 898.3 L1455.1 914.6"/>
<path class="m" d="M1466.9 898.3 L1466.2 914.6"/>
<path class="h" d="M1453.8 914.6 L1468.2 914.6"/>
<path class="k" d="M1455.1 916.5 L1464.2 916.5 L1463.6 924.4 L1455.7 924.4 Z"/>
<text class="b" x="1479.9" y="816.6" font-size="23.7" textLength="15.7" lengthAdjust="spacingAndGlyphs" stroke="#000" stroke-width="0.8">V</text>
<line x1="1486.5" y1="823.8" x2="1486.5" y2="830.4" stroke="#000" stroke-width="2"/><polygon class="k" points="1486.5,840.4 1483.5,830.4 1489.5,830.4"/>
<line x1="1486.5" y1="843.6" x2="1483.7" y2="843.6" stroke="#000" stroke-width="2"/><polygon class="k" points="1474.7,843.6 1483.7,840.6 1483.7,846.6"/>
<line x1="1486.5" y1="843.6" x2="1489.5" y2="843.6" stroke="#000" stroke-width="2"/><polygon class="k" points="1498.5,843.6 1489.5,846.6 1489.5,840.6"/>
<text class="b" x="1475.5" y="896.3" font-size="26.5" textLength="18.0" lengthAdjust="spacingAndGlyphs" stroke="#000" stroke-width="0.8">U</text>
<line x1="1482.5" y1="899.6" x2="1482.5" y2="905.8" stroke="#000" stroke-width="2"/><polygon class="k" points="1482.5,914.8 1479.7,905.8 1485.3,905.8"/>
<line x1="1479.9" y1="916.9" x2="1477.1" y2="916.8" stroke="#000" stroke-width="2"/><polygon class="k" points="1468.2,916.2 1477.3,913.8 1476.9,919.7"/>
<line x1="1484.5" y1="917.2" x2="1489.5" y2="917.1" stroke="#000" stroke-width="2"/><polygon class="k" points="1498.5,916.9 1489.5,920.1 1489.4,914.1"/>
<path class="l" d="M1498.2 926.3 L1499.5 787.8 L1527.6 787.6 L1527 896.9"/>
<path class="l" d="M1501.5 897.6 L1500.8 925.7"/>
<path class="l" d="M1517.8 896.6 L1572.7 897.3 L1572 927 L1498.2 926.3"/>
<path class="l" d="M1646.7 896.7 L1584.7 897.4 L1583.6 926.8 L1657.6 926.8"/>
<path class="l" d="M1629.3 896.3 L1630.4 788.5 L1658.7 788.5 L1657.6 859.3"/>
<path class="l" d="M1655.5 898.5 L1656.5 926.8"/>
<path class="l" d="M1657.6 859.3 L1657.6 926.8"/>
<text class="b" x="1672.1" y="834.2" font-size="24.3" textLength="12.5" lengthAdjust="spacingAndGlyphs" stroke="#000" stroke-width="0.7">S</text>
<line x1="1675.5" y1="838.6" x2="1675" y2="844.1" stroke="#000" stroke-width="1.8"/><polygon class="k" points="1674.2,852.1 1672.4,843.9 1677.5,844.4"/>
<line x1="1677.2" y1="858" x2="1667.7" y2="858.1" stroke="#000" stroke-width="2"/><polygon class="k" points="1658.7,858.2 1667.7,855.3 1667.8,860.9"/>
<line x1="1677.2" y1="858" x2="1686.7" y2="857.9" stroke="#000" stroke-width="2"/><polygon class="k" points="1695.7,857.8 1686.8,860.7 1686.7,855.1"/>
<text class="b" x="1663.8" y="892" font-size="24.4" textLength="12.7" lengthAdjust="spacingAndGlyphs" stroke="#000" stroke-width="0.7">T</text>
<line x1="1672.4" y1="894.1" x2="1672.4" y2="896.5" stroke="#000" stroke-width="1.8"/><polygon class="k" points="1672.4,905.5 1669.8,896.5 1675,896.5"/>
<line x1="1677.2" y1="908.1" x2="1667.7" y2="908.2" stroke="#000" stroke-width="2"/><polygon class="k" points="1658.7,908.3 1667.7,905.4 1667.8,911"/>
<line x1="1677.2" y1="908.1" x2="1688.3" y2="907.8" stroke="#000" stroke-width="2"/><polygon class="k" points="1697.3,907.6 1688.3,910.6 1688.2,905"/>
<path class="t" d="M1691.4 821.2 L1696.8 835.3 L1697.9 844" stroke-dasharray="9 4"/>
<path class="t" d="M1716.4 821.2 L1713.2 835.3 L1712.1 844" stroke-dasharray="9 4"/>
<path class="l" d="M1692.5 820.5 L1716.4 821.8" stroke-dasharray="7 4"/>
<path class="m" d="M1696.8 845.8 L1680.5 846.2 L1679.4 851.7 L1696.8 857.1"/>
<path class="m" d="M1697.9 844 L1711 844 L1712.1 870.2 L1696.8 870.2 Z"/>
<path class="m" d="M1695.7 869.1 L1713.2 869.1 L1713.2 873.4 L1695.7 873.4 Z"/>
<path class="l" d="M1712.1 846.2 L1728.4 846.2 L1729.5 852.8 L1720.8 857.1"/>
<path class="l" d="M1683.8 852.8 L1693.6 874.5"/>
<path class="l" d="M1718.6 857.1 L1712.1 874.5"/>
<path class="m" d="M1685.9 876.7 L1723 876.7 L1723 886.5 L1685.9 886.5 Z"/>
<path class="m" d="M1696.8 886.5 L1696.8 896.3 L1712.1 896.3 L1712.1 886.5"/>
<path class="l" d="M1697.9 898.5 L1697.9 918.1 L1711 918.1 L1711 898.5" stroke-dasharray="7 3"/>
<path class="l" d="M1700.1 918.1 L1700.1 923.5 L1707.7 923.5 L1707.7 918.1"/>
<path class="l" d="M1731.7 883.2 L1732.8 926.8 L1675.1 927.2" stroke-dasharray="7 4"/>
<!-- d5.svg -->
<path class="l" d="M779.3 1139.8 L779.3 1163.1"/>
<line x1="909.8" y1="1145.9" x2="793" y2="1145.9" stroke="#000" stroke-width="2.6"/><polygon class="k" points="780,1145.9 793,1142.5 793,1149.3"/>
<text class="b" x="910.6" y="1157.1" font-size="24.2" textLength="18.4" lengthAdjust="spacingAndGlyphs" stroke="#000" stroke-width="0.7">H</text>
<line x1="930.5" y1="1145.9" x2="1043.4" y2="1147.7" stroke="#000" stroke-width="2.6"/><polygon class="k" points="1056.4,1147.9 1043.3,1151.1 1043.4,1144.3"/>
<path class="l" d="M1057.2 1144.1 L1057.6 1164.8"/>
<path class="l" d="M763.3 1176.9 C764 1170.3 763.6 1169 765.9 1166.6 C768.2 1164.1 773.3 1162.2 777.1 1162.2 C780.8 1162.2 785.8 1164.1 788.3 1166.6 C790.7 1169 791.1 1166.3 791.7 1176.9 C792.3 1187.5 792 1219.7 791.7 1230.3 C791.4 1241 790.6 1237.2 790 1240.7 C789.4 1244.1 788.7 1239.5 788.3 1251 C787.8 1262.5 788.1 1298.2 787.4 1309.7 C786.7 1321.1 786.4 1317.4 784 1320 C781.5 1322.6 776.4 1325.2 772.8 1325.2 C769.2 1325.2 764.8 1322.6 762.4 1320 C760.1 1317.4 759.2 1320 758.6 1309.7 C758 1299.3 758.5 1275.2 759 1257.9 C759.5 1240.7 760.8 1219.7 761.6 1206.2 C762.3 1192.7 762.6 1183.5 763.3 1176.9 Z"/>
<path class="l" d="M778.8 1163.1 L771.9 1339.8" stroke-dasharray="26 5 4 5"/>
<path class="l" d="M1043.4 1176.9 C1043.7 1165 1043.4 1171.1 1046 1169.1 C1048.6 1167.1 1055.1 1164.7 1059 1164.8 C1062.8 1165 1067.2 1167.4 1069.3 1170 C1071.5 1172.6 1071 1168.6 1071.9 1180.3 C1072.8 1192.1 1073.8 1219.1 1074.5 1240.7 C1075.2 1262.2 1076.4 1296.4 1076.2 1309.7 C1076.1 1322.9 1075.9 1317 1073.6 1320 C1071.3 1323 1066.3 1327.2 1062.4 1327.8 C1058.5 1328.3 1053.1 1326.2 1050.3 1323.4 C1047.6 1320.7 1047 1325.2 1046 1311.4 C1045 1297.6 1044.7 1263.1 1044.3 1240.7 C1043.9 1218.3 1043.2 1188.8 1043.4 1176.9 Z"/>
<path class="l" d="M1057.2 1164.8 L1061.6 1342.4" stroke-dasharray="26 5 4 5"/>
<path class="l" d="M771.9 1325.2 L771.9 1340.7"/>
<line x1="908.1" y1="1334.7" x2="785.8" y2="1334.7" stroke="#000" stroke-width="2.6"/><polygon class="k" points="772.8,1334.7 785.8,1331.3 785.8,1338.1"/>
<text class="b" x="912.8" y="1343.3" font-size="24.2" textLength="11.4" lengthAdjust="spacingAndGlyphs" stroke="#000" stroke-width="0.7">J</text>
<line x1="929.7" y1="1334.7" x2="1048.6" y2="1339.3" stroke="#000" stroke-width="2.6"/><polygon class="k" points="1061.6,1339.8 1048.4,1342.7 1048.7,1335.9"/>
<path class="l" d="M1061.6 1326.9 L1061.7 1342.4"/>
<path class="l" d="M841.7 1170.9 L854.7 1170.9 L854.7 1320 L841.7 1320 Z" fill="#fff"/>
<path class="l" d="M841.7 1173.1 L854.7 1173.1"/>
<path class="l" d="M841.7 1313.1 L854.7 1313.1"/>
<path class="l" d="M980.5 1171.7 L993.4 1171.7 L993.4 1320.9 L980.5 1320.9 Z" fill="#fff"/>
<path class="l" d="M980.5 1178.6 L993.4 1178.6"/>
<path class="l" d="M980.5 1314 L993.4 1314"/>
<path class="m" d="M791.7 1239 L836.6 1239"/>
<path class="m" d="M855.5 1234.7 L859 1234.7 L867.6 1239 L877.9 1240.7 L964.1 1240.7 L972.8 1237.2 L980.5 1237.2"/>
<path class="m" d="M993.4 1238.1 L1041.7 1239.3"/>
<path class="m" d="M791.7 1247.6 L817.6 1251 L837.4 1252.8"/>
<path class="m" d="M855.5 1253.6 L867.6 1251.9 L877.9 1251 L964.1 1251.9 L972.8 1254.5 L980.5 1255.3"/>
<path class="m" d="M993.4 1256.2 L1015.9 1253.6 L1041.7 1249.3"/>
<path class="m" d="M837.4 1238.1 L855.9 1238.1"/>
<path class="m" d="M837.4 1240.7 L855.9 1240.7"/>
<path class="m" d="M837.4 1250.2 L855.9 1250.2"/>
<path class="m" d="M837.4 1252.8 L855.9 1252.8"/>
<path class="l" d="M837.4 1238.1 L837.4 1240.7"/>
<path class="l" d="M855.9 1238.1 L855.9 1240.7"/>
<path class="l" d="M837.4 1250.2 L837.4 1252.8"/>
<path class="l" d="M855.9 1250.2 L855.9 1252.8"/>
<path class="m" d="M976.2 1237.2 L994.8 1237.2"/>
<path class="m" d="M976.2 1239.8 L994.8 1239.8"/>
<path class="m" d="M976.2 1251.9 L994.8 1251.9"/>
<path class="m" d="M976.2 1254.5 L994.8 1254.5"/>
<path class="l" d="M976.2 1237.2 L976.2 1239.8"/>
<path class="l" d="M994.8 1237.2 L994.8 1239.8"/>
<path class="l" d="M976.2 1251.9 L976.2 1254.5"/>
<path class="l" d="M994.8 1251.9 L994.8 1254.5"/>
<path class="m" d="M790 1238.1 L800.3 1238.1 L800.3 1247.6 L790 1247.6 Z"/>
<path class="t" d="M795.2 1238.1 L795.2 1247.6"/>
<path class="t" d="M790 1242.8 L800.3 1242.8"/>
<path class="l" d="M784.8 1242.1 L791.7 1242.1"/>
<path class="m" d="M1034 1240.7 L1041.7 1240.7 L1041.7 1249.3 L1034 1249.3 Z"/>
<path class="m" d="M795.2 1239 C795.3 1237 795.2 1230.2 796 1226.9 C796.9 1223.6 798.2 1221 800.3 1219.1 C802.5 1217.3 806.4 1216.1 809 1215.7 C811.6 1215.3 813.6 1215.3 815.9 1216.6 C818.2 1217.8 820.5 1220.9 822.8 1223.4 C825.1 1226 827.9 1229.5 829.7 1232.1 C831.4 1234.7 832.5 1237.8 833.1 1239"/>
<path class="l" d="M798.6 1239 C798.8 1237.2 798.8 1231.4 799.5 1228.6 C800.2 1225.9 801.4 1224.1 802.9 1222.6 C804.5 1221.1 807.1 1220 809 1219.7 C810.8 1219.3 812.4 1219.4 814.1 1220.3 C815.9 1221.3 817.4 1223.1 819.3 1225.2 C821.2 1227.3 823.9 1230.6 825.3 1232.9 C826.8 1235.2 827.5 1238 827.9 1239"/>
<path class="m" d="M803.8 1271.7 L822.8 1271.7"/>
<path class="m" d="M829.7 1271.4 L841.7 1271.4"/>
<path class="m" d="M854.7 1271.4 L980.5 1271.7"/>
<path class="m" d="M993.4 1272.6 L1009 1272.6"/>
<path class="m" d="M803.8 1276.9 L841.7 1276"/>
<path class="m" d="M854.7 1276 L980.5 1276"/>
<path class="m" d="M993.4 1276 L1031.4 1277.8"/>
<path class="l" d="M822.8 1271.7 L829.7 1274.3 L822.8 1276.6"/>
<path class="l" d="M1009 1272.6 L1002.1 1274.7 L1009 1276.9"/>
<circle class="k" cx="800.3" cy="1273.1" r="4.4"/>
<circle class="k" cx="1031.4" cy="1274" r="4.4"/>
<path class="m" d="M793.4 1248.4 C793.7 1250.6 794.2 1257.9 795.2 1261.4 C796.2 1264.8 798.8 1267.8 799.5 1269.1"/>
<path class="m" d="M1040.9 1249.3 C1040.1 1251.6 1037.8 1259.7 1036.6 1263.1 C1035.3 1266.6 1033.7 1268.9 1033.1 1270"/>
<path class="l" d="M1036.9 1249.3 C1036.3 1251.6 1034.2 1259.7 1033.1 1263.1 C1032 1266.6 1030.9 1268.9 1030.5 1270"/>
<text class="b" x="869.6" y="1233.8" font-size="24.0" textLength="14.4" lengthAdjust="spacingAndGlyphs" stroke="#000" stroke-width="0.7">K</text>
<path class="h" d="M865.9 1225.2 L833.1 1237.2"/>
<path class="h" d="M816.7 1220.9 L829.7 1237.2"/>
<line x1="817.2" y1="1239" x2="817.6" y2="1231.4" stroke="#000" stroke-width="2.2"/><polygon class="k" points="817.9,1223.4 820.4,1231.6 814.8,1231.3"/>
<line x1="815.9" y1="1244.1" x2="815.9" y2="1250.8" stroke="#000" stroke-width="2.2"/><polygon class="k" points="815.9,1258.8 813.1,1250.8 818.7,1250.8"/>
<path class="h" d="M821 1239 L834 1238.1"/>
<text class="b" x="825" y="1180.3" font-size="22.8" textLength="10.4" lengthAdjust="spacingAndGlyphs" stroke="#000" stroke-width="0.7">L</text>
<line x1="832.8" y1="1185.5" x2="835" y2="1192.8" stroke="#000" stroke-width="1.6"/><polygon class="k" points="837.6,1201.4 832.7,1193.5 837.3,1192.1"/>
<line x1="815.9" y1="1205" x2="823.2" y2="1205" stroke="#000" stroke-width="2.4"/><polygon class="k" points="832.2,1205 823.2,1208 823.2,1202"/>
<path class="m" d="M832.2 1202.8 L832.2 1216.6"/>
<line x1="859.8" y1="1205" x2="852.4" y2="1205" stroke="#000" stroke-width="2.4"/><polygon class="k" points="843.4,1205 852.4,1202 852.4,1208"/>
<text class="b" x="819" y="1301" font-size="22.8" textLength="22.1" lengthAdjust="spacingAndGlyphs" stroke="#000" stroke-width="0.6" font-style="italic">M</text>
<path class="m" d="M802.1 1280.3 L802.1 1294.1"/>
<line x1="819.3" y1="1291.6" x2="814.4" y2="1291.6" stroke="#000" stroke-width="2.4"/><polygon class="k" points="802.4,1291.6 814.4,1288.4 814.4,1294.8"/>
<text class="b" x="993.3" y="1301.9" font-size="22.9" textLength="21.0" lengthAdjust="spacingAndGlyphs" stroke="#000" stroke-width="0.6" font-style="italic">M</text>
<line x1="1015.9" y1="1294.1" x2="1021.7" y2="1294.1" stroke="#000" stroke-width="2"/><polygon class="k" points="1030.7,1294.1 1021.7,1296.9 1021.7,1291.3"/>
<path class="l" d="M1031 1278.6 L1031 1296.7"/>
<line x1="751.2" y1="1288.1" x2="776.4" y2="1289.3" stroke="#000" stroke-width="2.4"/><polygon class="k" points="787.4,1289.8 776.3,1292.3 776.6,1286.3"/>
<line x1="1062.4" y1="1292.4" x2="1056.2" y2="1292.4" stroke="#000" stroke-width="2.4"/><polygon class="k" points="1045.2,1292.4 1056.2,1289.4 1056.2,1295.4"/>
<!-- d6.svg -->
<path class="l" d="M1296.2 1137.2 L1296.2 1154.5"/>
<line x1="1419.8" y1="1142.4" x2="1309.9" y2="1142.4" stroke="#000" stroke-width="2.6"/><polygon class="k" points="1296.9,1142.4 1309.9,1139 1309.9,1145.8"/>
<text class="b" x="1422.3" y="1153.6" font-size="24.0" textLength="18.4" lengthAdjust="spacingAndGlyphs" stroke="#000" stroke-width="0.7">H</text>
<line x1="1442.2" y1="1142.4" x2="1559.4" y2="1144" stroke="#000" stroke-width="2.6"/><polygon class="k" points="1572.4,1144.1 1559.4,1147.4 1559.5,1140.6"/>
<path class="l" d="M1573.3 1140.7 L1573.4 1154.5"/>
<path class="l" d="M1273.3 1171.7 C1274.3 1160.7 1274.9 1160.5 1277.6 1157.1 C1280.3 1153.6 1285.6 1152 1289.7 1151 C1293.7 1150 1297.7 1150 1301.7 1151 C1305.7 1152 1310.9 1153.6 1313.8 1157.1 C1316.7 1160.5 1318.5 1160.7 1319 1171.7 C1319.4 1182.8 1316.7 1203.3 1316.4 1223.4 C1316.1 1243.6 1318 1278 1317.2 1292.4 C1316.5 1306.8 1314.1 1305.3 1312.1 1309.7 C1310.1 1314 1308.6 1316.4 1305.2 1318.3 C1301.7 1320.1 1296 1321.4 1291.4 1320.9 C1286.8 1320.3 1281.2 1318.1 1277.6 1314.8 C1274 1311.5 1271.3 1304.8 1269.8 1301 C1268.4 1297.3 1268.7 1305.3 1269 1292.4 C1269.3 1279.5 1270.8 1243.6 1271.6 1223.4 C1272.3 1203.3 1272.3 1182.8 1273.3 1171.7 Z" stroke-dasharray="40 4 10 4"/>
<path class="l" d="M1296.2 1151 L1290.5 1336.4" stroke-dasharray="26 5 4 5"/>
<path class="l" d="M1550.9 1171.7 C1551.4 1158.2 1552.2 1162.7 1555.2 1159.7 C1558.2 1156.6 1564.4 1154.3 1569 1153.6 C1573.6 1152.9 1578.9 1153.5 1582.8 1155.3 C1586.6 1157.2 1590.1 1160.9 1592.2 1164.8 C1594.4 1168.7 1595 1157.4 1595.7 1178.6 C1596.4 1199.9 1597 1270.6 1596.6 1292.4 C1596.1 1314.3 1595.4 1304.8 1593.1 1309.7 C1590.8 1314.5 1586.8 1319.4 1582.8 1321.7 C1578.7 1324 1573 1324 1569 1323.4 C1564.9 1322.9 1561.2 1321.1 1558.6 1318.3 C1556 1315.4 1554.6 1319.1 1553.4 1306.2 C1552.3 1293.3 1552.2 1263.1 1551.7 1240.7 C1551.3 1218.3 1550.3 1185.2 1550.9 1171.7 Z" stroke-dasharray="40 4 10 4"/>
<path class="l" d="M1572.4 1152.8 L1575.9 1335.5" stroke-dasharray="26 5 4 5"/>
<path class="m" d="M1275.9 1188.1 L1280.2 1189 L1281 1194.1 L1278.4 1195.9 L1285.3 1195 L1308.6 1193.3 L1309.5 1189 L1313.8 1188.1"/>
<path class="m" d="M1274.1 1282.1 L1277.6 1281.2 L1278.4 1275.2 L1306.9 1275.2 L1308.6 1280.3 L1311.2 1282.1"/>
<path class="m" d="M1554.3 1189.8 L1558.6 1190.7 L1559.5 1195.9 L1586.2 1195.9 L1587.9 1190.7 L1590.5 1189"/>
<path class="m" d="M1556.9 1283.8 L1559.5 1282.9 L1560.3 1277.8 L1587.9 1276 L1590.5 1274.3 L1592.2 1282.1"/>
<path class="l" d="M1290.5 1320 L1290.5 1336.4"/>
<line x1="1419.8" y1="1330.7" x2="1304.4" y2="1330.7" stroke="#000" stroke-width="2.6"/><polygon class="k" points="1291.4,1330.7 1304.4,1327.3 1304.4,1334.1"/>
<text class="b" x="1434" y="1338.1" font-size="24.0" textLength="11.4" lengthAdjust="spacingAndGlyphs" stroke="#000" stroke-width="0.7">J</text>
<line x1="1453.4" y1="1331.2" x2="1562.9" y2="1333.8" stroke="#000" stroke-width="2.6"/><polygon class="k" points="1575.9,1334.1 1562.8,1337.2 1562.9,1330.4"/>
<path class="l" d="M1575.9 1321.7 L1576 1335.5"/>
<path class="m" d="M1382.8 1157.1 L1382.8 1195.9"/>
<path class="m" d="M1382.8 1248.4 L1382.8 1316.6"/>
<path class="l" d="M1394.8 1157.1 L1394.8 1223.4" stroke-dasharray="26 5 4 5"/>
<path class="m" d="M1394.8 1248.4 L1394.8 1285.5"/>
<path class="l" d="M1394.8 1285.5 L1394.8 1316.6" stroke-dasharray="26 5 4 5"/>
<path class="l" d="M1382.8 1157.1 L1387.9 1157.9 L1390.5 1156.2 L1395.7 1156.6"/>
<path class="l" d="M1381.9 1316.6 L1387.9 1315.7 L1390.5 1317.4 L1394.8 1316.6"/>
<path class="m" d="M1472.4 1159.7 L1472.4 1316.6"/>
<path class="l" d="M1484.5 1159.7 L1484.5 1316.6" stroke-dasharray="30 5 12 5"/>
<path class="l" d="M1472.4 1160.5 L1477.6 1161 L1480.2 1159.3 L1485.3 1159.7"/>
<path class="l" d="M1471.6 1315.7 L1477.6 1316.2 L1480.2 1314.5 L1484.5 1315.2"/>
<path class="l" d="M1332.8 1227.8 L1355.2 1223.4 L1380.2 1223.4"/>
<path class="l" d="M1398.3 1223.4 L1401.7 1223.4 L1405.2 1228.6 L1427.6 1229.5 L1426.7 1243.3 L1405.2 1243.3 L1400 1248.4 L1398.3 1248.4"/>
<path class="l" d="M1331 1240.7 L1346.6 1244.1 L1355.2 1248.4 L1380.2 1248.4"/>
<path class="l" d="M1463.8 1230.3 L1443.1 1230.3 L1442.2 1242.4 L1463.8 1242.8"/>
<path class="l" d="M1463.8 1230.3 L1467.2 1225.2 L1472.4 1224.7"/>
<path class="l" d="M1484.5 1224.5 L1508.6 1224.3 L1534.5 1230.3" stroke-dasharray="20 5"/>
<path class="l" d="M1463.8 1242.8 L1469 1249.3 L1472.4 1249.3"/>
<path class="l" d="M1484.5 1249.3 L1508.6 1249.3 L1534.5 1244.1" stroke-dasharray="20 5"/>
<path class="m" d="M1380.2 1224.3 L1398.3 1224.3"/>
<path class="m" d="M1380.2 1226.9 L1398.3 1226.9"/>
<path class="m" d="M1380.2 1245 L1398.3 1245"/>
<path class="m" d="M1380.2 1247.6 L1398.3 1247.6"/>
<path class="m" d="M1383.6 1230.3 L1394 1230.3 L1394 1241.6 L1383.6 1241.6 Z"/>
<path class="m" d="M1466.4 1226.9 L1485.3 1226.9"/>
<path class="m" d="M1466.4 1229.5 L1485.3 1229.5"/>
<path class="m" d="M1466.4 1246.7 L1485.3 1246.7"/>
<path class="m" d="M1466.4 1249.3 L1485.3 1249.3"/>
<path class="m" d="M1472.4 1232.1 L1482.8 1232.1 L1482.8 1243.3 L1472.4 1243.3 Z"/>
<circle class="m" cx="1316.4" cy="1236.4" r="5.2"/>
<circle class="t" cx="1316.4" cy="1236.4" r="3" stroke-dasharray="3 2"/>
<path class="m" d="M1309.5 1230.3 L1332.8 1228.6 L1332.8 1240.7 L1309.5 1242.4"/>
<path class="m" d="M1309.5 1230.3 C1309.2 1231.4 1307.8 1234.4 1307.8 1236.4 C1307.8 1238.4 1309.2 1241.4 1309.5 1242.4"/>
<path class="h" d="M1320.7 1230.3 L1320.7 1225.2 L1330.2 1225.2 L1332.8 1228.6"/>
<path class="m" d="M1322.4 1240.7 C1323 1241.8 1323.9 1245.9 1325.9 1247.6 C1327.9 1249.3 1331 1251.6 1334.5 1251 C1337.9 1250.5 1342.2 1247 1346.6 1244.1 C1350.9 1241.3 1356.8 1235.8 1360.3 1233.8 C1363.9 1231.8 1366.8 1232.4 1368.1 1232.1"/>
<path class="l" d="M1325.9 1239 C1326.7 1239.8 1328.7 1243.4 1331 1244.1 C1333.3 1244.9 1335.9 1245 1339.7 1243.3 C1343.4 1241.6 1349.4 1236.1 1353.4 1233.8 C1357.5 1231.5 1362.1 1230.2 1363.8 1229.5"/>
<circle class="k" cx="1368.1" cy="1232.1" r="3.6"/>
<path class="m" d="M1318.1 1242.4 L1320.7 1270"/>
<path class="m" d="M1325.9 1244.1 L1327.6 1270"/>
<path class="m" d="M1327.6 1270.9 L1344.8 1270.9 L1344.8 1276"/>
<path class="m" d="M1351.7 1276 L1351.7 1271.4 L1425 1271.4"/>
<path class="m" d="M1425 1271.4 C1425.3 1271.8 1426.7 1273.2 1426.7 1274.1 C1426.7 1275.1 1425.3 1276.4 1425 1276.9"/>
<path class="m" d="M1425 1276.9 L1351.7 1276"/>
<path class="m" d="M1442.2 1271.7 C1442 1272.2 1440.5 1273.4 1440.5 1274.3 C1440.5 1275.2 1442 1276.5 1442.2 1276.9"/>
<path class="m" d="M1442.2 1271.7 L1472.4 1271.7"/>
<path class="m" d="M1442.2 1276.9 L1472.4 1276.9"/>
<path class="m" d="M1484.5 1272.1 L1508.6 1272.1"/>
<path class="m" d="M1484.5 1276.9 L1508.6 1276.9"/>
<circle class="m" cx="1324.1" cy="1273.4" r="4.6"/>
<circle class="m" cx="1324.1" cy="1273.4" r="2.6"/>
<path class="l" d="M1334.5 1276 L1334.5 1279.5 L1344.8 1279.5"/>
<circle class="t" cx="1337.9" cy="1280.3" r="1.6"/>
<circle class="t" cx="1343.1" cy="1280.3" r="1.6"/>
<circle class="m" cx="1542.2" cy="1273.4" r="4"/>
<circle class="l" cx="1542.2" cy="1273.4" r="2.4"/>
<path class="m" d="M1510.3 1276.9 L1510.3 1271.7 L1519.8 1271.7 L1519.8 1276.9 L1532.8 1276.9"/>
<circle class="t" cx="1523.3" cy="1280.3" r="1.6"/>
<circle class="t" cx="1528.4" cy="1280.3" r="1.6"/>
<path class="m" d="M1534.5 1232.1 L1556.9 1231.2 L1558.6 1237.2 L1556.9 1242.4 L1534.5 1241.6 Z"/>
<circle class="l" cx="1548.3" cy="1237.2" r="4.6" stroke-dasharray="6 3"/>
<path class="k" d="M1542.2 1227.8 L1548.3 1227.8 L1548.3 1231.2 L1542.2 1231.2 Z"/>
<path class="m" d="M1539.7 1242.4 L1541.4 1270"/>
<path class="m" d="M1546.6 1242.4 L1545.7 1270"/>
<text class="b" x="1333.7" y="1201" font-size="24.0" textLength="16.3" lengthAdjust="spacingAndGlyphs" stroke="#000" stroke-width="0.7">K</text>
<line x1="1344.5" y1="1207.1" x2="1344.5" y2="1220.7" stroke="#000" stroke-width="3"/><polygon class="k" points="1344.5,1230.7 1341.9,1220.7 1347.1,1220.7"/>
<line x1="1343.1" y1="1257.9" x2="1343.6" y2="1248.6" stroke="#000" stroke-width="3"/><polygon class="k" points="1344.1,1238.6 1346.2,1248.7 1341,1248.5"/>
<text class="b" x="1369.5" y="1188.1" font-size="24.0" textLength="10.4" lengthAdjust="spacingAndGlyphs" stroke="#000" stroke-width="0.7">L</text>
<line x1="1375.3" y1="1192.4" x2="1375.3" y2="1193.4" stroke="#000" stroke-width="2"/><polygon class="k" points="1375.3,1201.4 1372.7,1193.4 1377.9,1193.4"/>
<line x1="1375" y1="1209.7" x2="1372.2" y2="1209.7" stroke="#000" stroke-width="1.6"/><polygon class="k" points="1365.2,1209.7 1372.2,1207.3 1372.2,1212.1"/>
<line x1="1373.3" y1="1209.7" x2="1376.1" y2="1209.7" stroke="#000" stroke-width="1.6"/><polygon class="k" points="1383.1,1209.7 1376.1,1212.1 1376.1,1207.3"/>
<path class="l" d="M1367.2 1207.9 L1367.2 1232.1"/>
<path class="l" d="M1382.8 1207.1 L1382.8 1212.2"/>
<text class="b" x="1343.6" y="1303.6" font-size="21.6" textLength="23.2" lengthAdjust="spacingAndGlyphs" stroke="#000" stroke-width="0.7">M</text>
<path class="m" d="M1324.5 1275.2 L1324.5 1295"/>
<line x1="1341.4" y1="1293.3" x2="1334" y2="1293.3" stroke="#000" stroke-width="2.2"/><polygon class="k" points="1325,1293.3 1334,1290.5 1334,1296.1"/>
<text class="b" x="1503.1" y="1302.8" font-size="21.8" textLength="23.0" lengthAdjust="spacingAndGlyphs" stroke="#000" stroke-width="0.7">M</text>
<line x1="1525" y1="1293.3" x2="1533.6" y2="1293.3" stroke="#000" stroke-width="2.2"/><polygon class="k" points="1542.6,1293.3 1533.6,1296.1 1533.6,1290.5"/>
<path class="m" d="M1543.1 1275.2 L1543.1 1295.9"/>
<line x1="1294.8" y1="1292.4" x2="1302.2" y2="1292.4" stroke="#000" stroke-width="2.2"/><polygon class="k" points="1311.2,1292.4 1302.2,1295.2 1302.2,1289.6"/>
<line x1="1572.4" y1="1292.4" x2="1565.9" y2="1292.4" stroke="#000" stroke-width="2.2"/><polygon class="k" points="1556.9,1292.4 1565.9,1289.6 1565.9,1295.2"/>
</svg></body></html>
